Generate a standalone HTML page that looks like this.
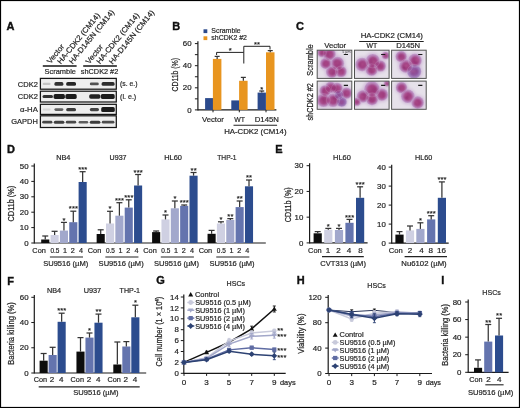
<!DOCTYPE html>
<html><head><meta charset="utf-8"><title>Figure</title>
<style>html,body{margin:0;padding:0;background:#fff;}body{width:520px;height:408px;overflow:hidden;position:relative;font-family:"Liberation Sans",sans-serif;}</style>
</head><body>
<svg width="520" height="408" viewBox="0 0 520 408" style="position:absolute;left:0;top:0;will-change:transform;filter:blur(0.3px)">
<defs><filter id="bl" x="-30%" y="-80%" width="160%" height="260%"><feGaussianBlur stdDeviation="0.65"/></filter><filter id="bl2" x="-50%" y="-50%" width="200%" height="200%"><feGaussianBlur stdDeviation="1.2"/></filter><filter id="bl3" x="-50%" y="-50%" width="200%" height="200%"><feGaussianBlur stdDeviation="0.7"/></filter></defs>
<g font-family='"Liberation Sans", sans-serif' fill="#262626">
<rect x="0" y="0" width="520" height="408" fill="#fff"/>
<text transform="translate(6.40,29.50) scale(1.1,1)" font-size="10.0" font-weight="bold" fill="#111" stroke="#111" stroke-width="0.35" >A</text>
<text transform="translate(50.50,64.30) rotate(-51)" font-size="7.6" stroke="#262626" stroke-width="0.2" textLength="22.50" lengthAdjust="spacingAndGlyphs" >Vector</text>
<text transform="translate(60.80,64.50) rotate(-51)" font-size="7.6" stroke="#262626" stroke-width="0.2" textLength="63.00" lengthAdjust="spacingAndGlyphs" >HA-CDK2 (CM14)</text>
<text transform="translate(72.50,64.40) rotate(-51)" font-size="7.6" stroke="#262626" stroke-width="0.2" textLength="67.00" lengthAdjust="spacingAndGlyphs" >HA-D145N (CM14)</text>
<text transform="translate(89.30,64.50) rotate(-51)" font-size="7.6" stroke="#262626" stroke-width="0.2" textLength="22.50" lengthAdjust="spacingAndGlyphs" >Vector</text>
<text transform="translate(100.00,64.40) rotate(-51)" font-size="7.6" stroke="#262626" stroke-width="0.2" textLength="63.00" lengthAdjust="spacingAndGlyphs" >HA-CDK2 (CM14)</text>
<text transform="translate(112.50,64.70) rotate(-51)" font-size="7.6" stroke="#262626" stroke-width="0.2" textLength="67.00" lengthAdjust="spacingAndGlyphs" >HA-D145N (CM14)</text>
<line x1="42.80" y1="66.00" x2="76.60" y2="66.00" stroke="#151515" stroke-width="1.3" />
<line x1="83.20" y1="66.00" x2="116.90" y2="66.00" stroke="#151515" stroke-width="1.3" />
<text transform="translate(44.55,74.25)" font-size="7.6" stroke="#262626" stroke-width="0.2" textLength="31.40" lengthAdjust="spacingAndGlyphs" >Scramble</text>
<text transform="translate(80.85,74.15)" font-size="7.6" stroke="#262626" stroke-width="0.2" textLength="37.40" lengthAdjust="spacingAndGlyphs" >shCDK2 #2</text>
<rect x="40.40" y="78.40" width="75.90" height="10.80" fill="#eeeeee" stroke="#151515" stroke-width="1.25"/>
<rect x="40.40" y="91.20" width="75.90" height="10.80" fill="#eeeeee" stroke="#151515" stroke-width="1.25"/>
<rect x="40.40" y="104.30" width="75.90" height="10.10" fill="#eeeeee" stroke="#151515" stroke-width="1.25"/>
<rect x="40.40" y="115.80" width="75.90" height="11.70" fill="#eeeeee" stroke="#151515" stroke-width="1.25"/>
<text transform="translate(17.85,86.75)" font-size="7.6" stroke="#262626" stroke-width="0.2" textLength="20.00" lengthAdjust="spacingAndGlyphs" >CDK2</text>
<text transform="translate(17.85,99.05)" font-size="7.6" stroke="#262626" stroke-width="0.2" textLength="20.00" lengthAdjust="spacingAndGlyphs" >CDK2</text>
<text transform="translate(20.05,111.85)" font-size="7.6" stroke="#262626" stroke-width="0.2" textLength="17.80" lengthAdjust="spacingAndGlyphs" >&#945;-HA</text>
<text transform="translate(11.25,123.95)" font-size="7.6" stroke="#262626" stroke-width="0.2" textLength="26.60" lengthAdjust="spacingAndGlyphs" >GAPDH</text>
<text transform="translate(120.05,86.15)" font-size="7.6" stroke="#262626" stroke-width="0.2" textLength="17.50" lengthAdjust="spacingAndGlyphs" >(s. e.)</text>
<text transform="translate(120.05,98.55)" font-size="7.6" stroke="#262626" stroke-width="0.2" textLength="16.20" lengthAdjust="spacingAndGlyphs" >(l. e.)</text>
<g filter="url(#bl)">
<rect x="42.70" y="82.80" width="7.90" height="2.20" rx="1.10" fill="rgb(196,196,196)"/>
<rect x="54.40" y="82.05" width="9.00" height="3.70" rx="1.60" fill="rgb(48,48,48)"/>
<rect x="66.20" y="81.95" width="9.80" height="3.90" rx="1.60" fill="rgb(40,40,40)"/>
<rect x="89.80" y="82.45" width="9.00" height="2.90" rx="1.45" fill="rgb(83,83,83)"/>
<rect x="101.60" y="82.05" width="13.00" height="3.70" rx="1.60" fill="rgb(46,46,46)"/>
<rect x="42.50" y="95.00" width="10.50" height="3.00" rx="1.50" fill="rgb(48,48,48)"/>
<rect x="53.60" y="94.05" width="11.30" height="4.90" rx="1.60" fill="rgb(26,26,26)"/>
<rect x="65.40" y="94.05" width="11.30" height="4.90" rx="1.60" fill="rgb(26,26,26)"/>
<rect x="89.20" y="94.35" width="11.20" height="4.30" rx="1.60" fill="rgb(36,36,36)"/>
<rect x="100.80" y="94.10" width="13.90" height="4.80" rx="1.60" fill="rgb(26,26,26)"/>
<rect x="42.70" y="108.60" width="7.90" height="2.00" rx="1.00" fill="rgb(214,214,214)"/>
<rect x="54.40" y="108.15" width="9.00" height="2.90" rx="1.45" fill="rgb(98,98,98)"/>
<rect x="66.20" y="107.90" width="9.80" height="3.40" rx="1.60" fill="rgb(60,60,60)"/>
<rect x="89.80" y="108.05" width="9.20" height="3.10" rx="1.55" fill="rgb(68,68,68)"/>
<rect x="101.20" y="107.10" width="13.60" height="5.00" rx="1.60" fill="rgb(30,30,30)"/>
<rect x="42.20" y="120.80" width="10.20" height="2.80" rx="1.40" fill="rgb(68,68,68)"/>
<rect x="53.80" y="120.70" width="10.60" height="3.00" rx="1.50" fill="rgb(63,63,63)"/>
<rect x="65.80" y="120.80" width="10.40" height="2.80" rx="1.40" fill="rgb(73,73,73)"/>
<rect x="78.60" y="121.00" width="9.60" height="2.40" rx="1.20" fill="rgb(93,93,93)"/>
<rect x="89.80" y="120.70" width="10.60" height="3.00" rx="1.50" fill="rgb(58,58,58)"/>
<rect x="101.80" y="120.80" width="12.60" height="2.80" rx="1.40" fill="rgb(78,78,78)"/>
</g>
<text transform="translate(172.20,29.50) scale(1.1,1)" font-size="10.0" font-weight="bold" fill="#111" stroke="#111" stroke-width="0.35" >B</text>
<rect x="203.50" y="29.30" width="3.80" height="3.80" fill="#2b4a8c" />
<text transform="translate(211.35,33.05)" font-size="7.4" stroke="#262626" stroke-width="0.2" textLength="29.30" lengthAdjust="spacingAndGlyphs" >Scramble</text>
<rect x="203.50" y="36.30" width="3.80" height="3.80" fill="#e8951f" />
<text transform="translate(211.35,40.15)" font-size="7.4" stroke="#262626" stroke-width="0.2" textLength="35.60" lengthAdjust="spacingAndGlyphs" >shCDK2 #2</text>
<line x1="197.90" y1="41.20" x2="197.90" y2="110.50" stroke="#1a1a1a" stroke-width="1.2" />
<line x1="194.90" y1="109.90" x2="197.90" y2="109.90" stroke="#1a1a1a" stroke-width="1" />
<text transform="translate(191.60,112.53) scale(1.08,1)" font-size="7.3" text-anchor="end" stroke="#262626" stroke-width="0.2" >0</text>
<line x1="194.90" y1="87.80" x2="197.90" y2="87.80" stroke="#1a1a1a" stroke-width="1" />
<text transform="translate(191.60,90.43) scale(1.08,1)" font-size="7.3" text-anchor="end" stroke="#262626" stroke-width="0.2" >20</text>
<line x1="194.90" y1="65.70" x2="197.90" y2="65.70" stroke="#1a1a1a" stroke-width="1" />
<text transform="translate(191.60,68.33) scale(1.08,1)" font-size="7.3" text-anchor="end" stroke="#262626" stroke-width="0.2" >40</text>
<line x1="194.90" y1="43.60" x2="197.90" y2="43.60" stroke="#1a1a1a" stroke-width="1" />
<text transform="translate(191.60,46.23) scale(1.08,1)" font-size="7.3" text-anchor="end" stroke="#262626" stroke-width="0.2" >60</text>
<line x1="194.90" y1="98.85" x2="197.90" y2="98.85" stroke="#1a1a1a" stroke-width="1" />
<line x1="194.90" y1="76.75" x2="197.90" y2="76.75" stroke="#1a1a1a" stroke-width="1" />
<line x1="194.90" y1="54.65" x2="197.90" y2="54.65" stroke="#1a1a1a" stroke-width="1" />
<line x1="197.90" y1="109.90" x2="276.40" y2="109.90" stroke="#1a1a1a" stroke-width="1.2" />
<text transform="translate(177.60,91.55) rotate(-90) scale(1,1.13)" font-size="7.6" stroke="#262626" stroke-width="0.2" textLength="33.60" lengthAdjust="spacingAndGlyphs" >CD11b (%)</text>
<rect x="205.10" y="98.10" width="8.30" height="11.80" fill="#2b4a8c" />
<rect x="212.90" y="58.90" width="8.50" height="51.00" fill="#e8951f" />
<rect x="231.30" y="100.40" width="8.30" height="9.50" fill="#2b4a8c" />
<rect x="239.10" y="80.80" width="8.50" height="29.10" fill="#e8951f" />
<rect x="257.60" y="92.60" width="8.30" height="17.30" fill="#2b4a8c" />
<rect x="266.00" y="52.30" width="8.50" height="57.60" fill="#e8951f" />
<line x1="217.15" y1="56.40" x2="217.15" y2="58.90" stroke="#353535" stroke-width="1.25" />
<line x1="214.65" y1="56.40" x2="219.65" y2="56.40" stroke="#353535" stroke-width="1.25" />
<line x1="243.35" y1="77.40" x2="243.35" y2="80.80" stroke="#353535" stroke-width="1.25" />
<line x1="240.85" y1="77.40" x2="245.85" y2="77.40" stroke="#353535" stroke-width="1.25" />
<line x1="261.75" y1="91.00" x2="261.75" y2="92.60" stroke="#353535" stroke-width="1.25" />
<line x1="259.25" y1="91.00" x2="264.25" y2="91.00" stroke="#353535" stroke-width="1.25" />
<line x1="270.25" y1="50.60" x2="270.25" y2="52.30" stroke="#353535" stroke-width="1.25" />
<line x1="267.75" y1="50.60" x2="272.75" y2="50.60" stroke="#353535" stroke-width="1.25" />
<line x1="213.00" y1="109.90" x2="213.00" y2="112.30" stroke="#1a1a1a" stroke-width="1" />
<line x1="239.30" y1="109.90" x2="239.30" y2="112.30" stroke="#1a1a1a" stroke-width="1" />
<line x1="266.00" y1="109.90" x2="266.00" y2="112.30" stroke="#1a1a1a" stroke-width="1" />
<line x1="216.60" y1="52.40" x2="243.80" y2="52.40" stroke="#222" stroke-width="1" />
<line x1="216.60" y1="52.40" x2="216.60" y2="55.00" stroke="#222" stroke-width="1" />
<line x1="243.80" y1="52.40" x2="243.80" y2="63.50" stroke="#222" stroke-width="1" />
<line x1="243.80" y1="46.30" x2="270.00" y2="46.30" stroke="#222" stroke-width="1" />
<line x1="243.80" y1="46.30" x2="243.80" y2="52.40" stroke="#222" stroke-width="1" />
<line x1="270.00" y1="46.30" x2="270.00" y2="49.50" stroke="#222" stroke-width="1" />
<text transform="translate(230.30,53.19)" font-size="7.6" text-anchor="middle" fill="#1a1a1a" stroke="#1a1a1a" stroke-width="0.15" letter-spacing="0.1">*</text>
<text transform="translate(257.10,47.09)" font-size="7.6" text-anchor="middle" fill="#1a1a1a" stroke="#1a1a1a" stroke-width="0.15" letter-spacing="0.1">**</text>
<text transform="translate(261.90,92.29)" font-size="7.6" text-anchor="middle" fill="#1a1a1a" stroke="#1a1a1a" stroke-width="0.15" letter-spacing="0.1">*</text>
<text transform="translate(201.95,122.35)" font-size="7.6" stroke="#262626" stroke-width="0.2" textLength="21.90" lengthAdjust="spacingAndGlyphs" >Vector</text>
<text transform="translate(234.35,122.35)" font-size="7.6" stroke="#262626" stroke-width="0.2" textLength="10.70" lengthAdjust="spacingAndGlyphs" >WT</text>
<text transform="translate(254.75,122.35)" font-size="7.6" stroke="#262626" stroke-width="0.2" textLength="24.10" lengthAdjust="spacingAndGlyphs" >D145N</text>
<line x1="233.50" y1="125.20" x2="277.10" y2="125.20" stroke="#222" stroke-width="1.1" />
<text transform="translate(224.15,133.65)" font-size="7.6" stroke="#262626" stroke-width="0.2" textLength="62.40" lengthAdjust="spacingAndGlyphs" >HA-CDK2 (CM14)</text>
<text transform="translate(296.00,29.80) scale(1.1,1)" font-size="10.0" font-weight="bold" fill="#111" stroke="#111" stroke-width="0.35" >C</text>
<text transform="translate(360.65,38.15)" font-size="7.6" stroke="#262626" stroke-width="0.2" textLength="62.30" lengthAdjust="spacingAndGlyphs" >HA-CDK2 (CM14)</text>
<line x1="359.20" y1="41.50" x2="423.70" y2="41.50" stroke="#222" stroke-width="1.1" />
<text transform="translate(324.25,47.75)" font-size="7.6" stroke="#262626" stroke-width="0.2" textLength="21.90" lengthAdjust="spacingAndGlyphs" >Vector</text>
<text transform="translate(366.55,47.75)" font-size="7.6" stroke="#262626" stroke-width="0.2" textLength="10.70" lengthAdjust="spacingAndGlyphs" >WT</text>
<text transform="translate(396.15,47.75)" font-size="7.6" stroke="#262626" stroke-width="0.2" textLength="24.00" lengthAdjust="spacingAndGlyphs" >D145N</text>
<text transform="translate(312.80,75.65) rotate(-90) scale(1,1.13)" font-size="7.6" stroke="#262626" stroke-width="0.2" textLength="31.40" lengthAdjust="spacingAndGlyphs" >Scramble</text>
<text transform="translate(313.00,120.55) rotate(-90) scale(1,1.13)" font-size="7.6" stroke="#262626" stroke-width="0.2" textLength="37.50" lengthAdjust="spacingAndGlyphs" >shCDK2 #2</text>
<filter id="bl4" x="-50%" y="-50%" width="200%" height="200%"><feGaussianBlur stdDeviation="1.6"/></filter>
<filter id="bl5" x="-50%" y="-50%" width="200%" height="200%"><feGaussianBlur stdDeviation="0.5"/></filter>
<filter id="bl6" x="-50%" y="-50%" width="200%" height="200%"><feGaussianBlur stdDeviation="1.0"/></filter>
<clipPath id="clip00"><rect x="317.20" y="50.20" width="34.6" height="28.2"/></clipPath>
<g clip-path="url(#clip00)">
<rect x="317.20" y="50.20" width="34.60" height="28.20" fill="#e6e1ea" />
<g filter="url(#bl4)">
<circle cx="329.30" cy="54.20" r="7.56" fill="#cdb3d6" opacity="0.8"/>
<circle cx="325.90" cy="63.40" r="6.75" fill="#cdb3d6" opacity="0.8"/>
<circle cx="337.30" cy="63.40" r="8.10" fill="#cdb3d6" opacity="0.8"/>
<circle cx="332.00" cy="71.80" r="7.29" fill="#cdb3d6" opacity="0.8"/>
<circle cx="341.00" cy="71.50" r="6.75" fill="#cdb3d6" opacity="0.8"/>
<circle cx="322.00" cy="52.50" r="5.40" fill="#cdb3d6" opacity="0.8"/>
</g>
<g filter="url(#bl3)">
<circle cx="329.30" cy="54.20" r="6.27" fill="#bd94c6"/>
<circle cx="325.90" cy="63.40" r="5.60" fill="#bd94c6"/>
<circle cx="337.30" cy="63.40" r="6.72" fill="#bd94c6"/>
<circle cx="332.00" cy="71.80" r="6.05" fill="#bd94c6"/>
<circle cx="341.00" cy="71.50" r="5.60" fill="#bd94c6"/>
<circle cx="322.00" cy="52.50" r="4.48" fill="#bd94c6"/>
</g>
<g filter="url(#bl6)">
<circle cx="329.50" cy="54.40" r="4.37" fill="#a0377c" opacity="0.92"/>
<circle cx="326.10" cy="63.60" r="3.90" fill="#a0377c" opacity="0.92"/>
<circle cx="337.50" cy="63.60" r="4.68" fill="#a0377c" opacity="0.92"/>
<circle cx="332.20" cy="72.00" r="4.21" fill="#a0377c" opacity="0.92"/>
<circle cx="341.20" cy="71.70" r="3.90" fill="#a0377c" opacity="0.92"/>
<circle cx="322.20" cy="52.70" r="3.12" fill="#a0377c" opacity="0.92"/>
</g>
<g filter="url(#bl5)">
<circle cx="329.30" cy="54.20" r="6.16" fill="none" stroke="#d6c0de" stroke-width="0.6" opacity="0.35"/>
<circle cx="325.90" cy="63.40" r="5.50" fill="none" stroke="#d6c0de" stroke-width="0.6" opacity="0.35"/>
<circle cx="337.30" cy="63.40" r="6.60" fill="none" stroke="#d6c0de" stroke-width="0.6" opacity="0.35"/>
<circle cx="332.00" cy="71.80" r="5.94" fill="none" stroke="#d6c0de" stroke-width="0.6" opacity="0.35"/>
<circle cx="341.00" cy="71.50" r="5.50" fill="none" stroke="#d6c0de" stroke-width="0.6" opacity="0.35"/>
<circle cx="322.00" cy="52.50" r="4.40" fill="none" stroke="#d6c0de" stroke-width="0.6" opacity="0.35"/>
</g>
<g filter="url(#bl6)">
<circle cx="329.11" cy="54.58" r="1.23" fill="#7c2060" opacity="0.4"/>
<circle cx="329.18" cy="54.04" r="1.23" fill="#c66aa0" opacity="0.4"/>
<circle cx="328.30" cy="53.97" r="1.23" fill="#7c2060" opacity="0.4"/>
<circle cx="330.63" cy="54.71" r="1.23" fill="#c66aa0" opacity="0.4"/>
<circle cx="326.95" cy="63.65" r="1.10" fill="#7c2060" opacity="0.4"/>
<circle cx="326.11" cy="63.50" r="1.10" fill="#c66aa0" opacity="0.4"/>
<circle cx="324.06" cy="64.34" r="1.10" fill="#7c2060" opacity="0.4"/>
<circle cx="326.30" cy="63.79" r="1.10" fill="#c66aa0" opacity="0.4"/>
<circle cx="335.32" cy="61.36" r="1.32" fill="#7c2060" opacity="0.4"/>
<circle cx="336.25" cy="62.85" r="1.32" fill="#c66aa0" opacity="0.4"/>
<circle cx="337.44" cy="63.38" r="1.32" fill="#7c2060" opacity="0.4"/>
<circle cx="337.85" cy="62.73" r="1.32" fill="#c66aa0" opacity="0.4"/>
<circle cx="332.20" cy="72.05" r="1.19" fill="#7c2060" opacity="0.4"/>
<circle cx="331.21" cy="73.86" r="1.19" fill="#c66aa0" opacity="0.4"/>
<circle cx="332.66" cy="73.22" r="1.19" fill="#7c2060" opacity="0.4"/>
<circle cx="331.35" cy="71.03" r="1.19" fill="#c66aa0" opacity="0.4"/>
<circle cx="340.85" cy="71.45" r="1.10" fill="#7c2060" opacity="0.4"/>
<circle cx="341.48" cy="71.69" r="1.10" fill="#c66aa0" opacity="0.4"/>
<circle cx="340.55" cy="70.53" r="1.10" fill="#7c2060" opacity="0.4"/>
<circle cx="340.43" cy="72.85" r="1.10" fill="#c66aa0" opacity="0.4"/>
<circle cx="321.43" cy="52.67" r="0.88" fill="#7c2060" opacity="0.4"/>
<circle cx="322.38" cy="51.16" r="0.88" fill="#c66aa0" opacity="0.4"/>
<circle cx="322.04" cy="53.65" r="0.88" fill="#7c2060" opacity="0.4"/>
<circle cx="320.27" cy="52.22" r="0.88" fill="#c66aa0" opacity="0.4"/>
</g>
<line x1="343.80" y1="54.50" x2="348.00" y2="54.50" stroke="#1a1a1a" stroke-width="1.1" />
</g>
<rect x="317.20" y="50.20" width="34.60" height="28.20" fill="none" stroke="#505050" stroke-width="1"/>
<clipPath id="clip01"><rect x="317.20" y="81.10" width="34.6" height="28.2"/></clipPath>
<g clip-path="url(#clip01)">
<rect x="317.20" y="81.10" width="34.60" height="28.20" fill="#e6e1ea" />
<g filter="url(#bl4)">
<circle cx="325.20" cy="90.80" r="6.75" fill="#cdb3d6" opacity="0.8"/>
<circle cx="330.70" cy="87.40" r="6.75" fill="#cdb3d6" opacity="0.8"/>
<circle cx="337.00" cy="88.40" r="6.75" fill="#cdb3d6" opacity="0.8"/>
<circle cx="346.40" cy="93.10" r="6.75" fill="#cdb3d6" opacity="0.8"/>
<circle cx="323.60" cy="100.20" r="8.10" fill="#cdb3d6" opacity="0.8"/>
<circle cx="333.00" cy="100.20" r="8.10" fill="#cdb3d6" opacity="0.8"/>
<circle cx="341.70" cy="101.70" r="6.08" fill="#cdb3d6" opacity="0.8"/>
<circle cx="339.00" cy="95.00" r="5.40" fill="#cdb3d6" opacity="0.8"/>
</g>
<g filter="url(#bl3)">
<circle cx="325.20" cy="90.80" r="5.60" fill="#bd94c6"/>
<circle cx="330.70" cy="87.40" r="5.60" fill="#bd94c6"/>
<circle cx="337.00" cy="88.40" r="5.60" fill="#bd94c6"/>
<circle cx="346.40" cy="93.10" r="5.60" fill="#bd94c6"/>
<circle cx="323.60" cy="100.20" r="6.72" fill="#bd94c6"/>
<circle cx="333.00" cy="100.20" r="6.72" fill="#bd94c6"/>
<circle cx="341.70" cy="101.70" r="5.04" fill="#a98cc4"/>
<circle cx="339.00" cy="95.00" r="4.48" fill="#a98cc4"/>
</g>
<g filter="url(#bl6)">
<circle cx="325.40" cy="91.00" r="3.90" fill="#a0377c" opacity="0.92"/>
<circle cx="330.90" cy="87.60" r="3.90" fill="#a0377c" opacity="0.92"/>
<circle cx="337.20" cy="88.60" r="3.90" fill="#a0377c" opacity="0.92"/>
<circle cx="346.60" cy="93.30" r="3.90" fill="#a0377c" opacity="0.92"/>
<circle cx="323.80" cy="100.40" r="4.68" fill="#a0377c" opacity="0.92"/>
<circle cx="333.20" cy="100.40" r="4.68" fill="#a0377c" opacity="0.92"/>
<circle cx="341.90" cy="101.90" r="3.51" fill="#8c4f9c" opacity="0.92"/>
<circle cx="339.20" cy="95.20" r="3.12" fill="#8c4f9c" opacity="0.92"/>
</g>
<g filter="url(#bl5)">
<circle cx="325.20" cy="90.80" r="5.50" fill="none" stroke="#d6c0de" stroke-width="0.6" opacity="0.35"/>
<circle cx="330.70" cy="87.40" r="5.50" fill="none" stroke="#d6c0de" stroke-width="0.6" opacity="0.35"/>
<circle cx="337.00" cy="88.40" r="5.50" fill="none" stroke="#d6c0de" stroke-width="0.6" opacity="0.35"/>
<circle cx="346.40" cy="93.10" r="5.50" fill="none" stroke="#d6c0de" stroke-width="0.6" opacity="0.35"/>
<circle cx="323.60" cy="100.20" r="6.60" fill="none" stroke="#d6c0de" stroke-width="0.6" opacity="0.35"/>
<circle cx="333.00" cy="100.20" r="6.60" fill="none" stroke="#d6c0de" stroke-width="0.6" opacity="0.35"/>
<circle cx="341.70" cy="101.70" r="4.95" fill="none" stroke="#d6c0de" stroke-width="0.6" opacity="0.35"/>
<circle cx="339.00" cy="95.00" r="4.40" fill="none" stroke="#d6c0de" stroke-width="0.6" opacity="0.35"/>
</g>
<g filter="url(#bl6)">
<circle cx="325.11" cy="90.09" r="1.10" fill="#7c2060" opacity="0.4"/>
<circle cx="325.49" cy="90.76" r="1.10" fill="#c66aa0" opacity="0.4"/>
<circle cx="323.55" cy="91.73" r="1.10" fill="#7c2060" opacity="0.4"/>
<circle cx="325.91" cy="91.80" r="1.10" fill="#c66aa0" opacity="0.4"/>
<circle cx="332.32" cy="87.81" r="1.10" fill="#7c2060" opacity="0.4"/>
<circle cx="330.83" cy="85.97" r="1.10" fill="#c66aa0" opacity="0.4"/>
<circle cx="331.26" cy="86.85" r="1.10" fill="#7c2060" opacity="0.4"/>
<circle cx="330.20" cy="86.00" r="1.10" fill="#c66aa0" opacity="0.4"/>
<circle cx="336.00" cy="87.85" r="1.10" fill="#7c2060" opacity="0.4"/>
<circle cx="338.26" cy="86.41" r="1.10" fill="#c66aa0" opacity="0.4"/>
<circle cx="335.36" cy="88.67" r="1.10" fill="#7c2060" opacity="0.4"/>
<circle cx="338.63" cy="89.05" r="1.10" fill="#c66aa0" opacity="0.4"/>
<circle cx="344.90" cy="91.12" r="1.10" fill="#7c2060" opacity="0.4"/>
<circle cx="346.71" cy="92.46" r="1.10" fill="#c66aa0" opacity="0.4"/>
<circle cx="345.14" cy="94.20" r="1.10" fill="#7c2060" opacity="0.4"/>
<circle cx="347.54" cy="93.26" r="1.10" fill="#c66aa0" opacity="0.4"/>
<circle cx="323.77" cy="100.51" r="1.32" fill="#7c2060" opacity="0.4"/>
<circle cx="325.75" cy="101.03" r="1.32" fill="#c66aa0" opacity="0.4"/>
<circle cx="324.11" cy="100.74" r="1.32" fill="#7c2060" opacity="0.4"/>
<circle cx="321.58" cy="101.85" r="1.32" fill="#c66aa0" opacity="0.4"/>
<circle cx="334.18" cy="100.85" r="1.32" fill="#7c2060" opacity="0.4"/>
<circle cx="330.48" cy="99.39" r="1.32" fill="#c66aa0" opacity="0.4"/>
<circle cx="334.09" cy="97.85" r="1.32" fill="#7c2060" opacity="0.4"/>
<circle cx="332.78" cy="101.43" r="1.32" fill="#c66aa0" opacity="0.4"/>
<circle cx="340.44" cy="103.24" r="0.99" fill="#7c2060" opacity="0.4"/>
<circle cx="342.03" cy="101.61" r="0.99" fill="#c66aa0" opacity="0.4"/>
<circle cx="341.93" cy="102.17" r="0.99" fill="#7c2060" opacity="0.4"/>
<circle cx="341.81" cy="102.79" r="0.99" fill="#c66aa0" opacity="0.4"/>
<circle cx="338.55" cy="94.72" r="0.88" fill="#7c2060" opacity="0.4"/>
<circle cx="339.84" cy="95.02" r="0.88" fill="#c66aa0" opacity="0.4"/>
<circle cx="338.23" cy="95.83" r="0.88" fill="#7c2060" opacity="0.4"/>
<circle cx="340.32" cy="94.60" r="0.88" fill="#c66aa0" opacity="0.4"/>
</g>
<line x1="343.80" y1="85.40" x2="348.00" y2="85.40" stroke="#1a1a1a" stroke-width="1.1" />
</g>
<rect x="317.20" y="81.10" width="34.60" height="28.20" fill="none" stroke="#505050" stroke-width="1"/>
<clipPath id="clip10"><rect x="354.50" y="50.20" width="34.6" height="28.2"/></clipPath>
<g clip-path="url(#clip10)">
<rect x="354.50" y="50.20" width="34.60" height="28.20" fill="#e6e1ea" />
<g filter="url(#bl4)">
<circle cx="362.20" cy="64.50" r="8.10" fill="#cdb3d6" opacity="0.8"/>
<circle cx="372.80" cy="61.00" r="8.51" fill="#cdb3d6" opacity="0.8"/>
<circle cx="371.60" cy="69.80" r="7.29" fill="#cdb3d6" opacity="0.8"/>
<circle cx="380.20" cy="66.00" r="6.75" fill="#cdb3d6" opacity="0.8"/>
<circle cx="385.50" cy="55.50" r="4.32" fill="#cdb3d6" opacity="0.8"/>
</g>
<g filter="url(#bl3)">
<circle cx="362.20" cy="64.50" r="6.72" fill="#bd94c6"/>
<circle cx="372.80" cy="61.00" r="7.06" fill="#bd94c6"/>
<circle cx="371.60" cy="69.80" r="6.05" fill="#bd94c6"/>
<circle cx="380.20" cy="66.00" r="5.60" fill="#bd94c6"/>
<circle cx="385.50" cy="55.50" r="3.58" fill="#bd94c6"/>
</g>
<g filter="url(#bl6)">
<circle cx="362.40" cy="64.70" r="4.68" fill="#a0377c" opacity="0.92"/>
<circle cx="373.00" cy="61.20" r="4.91" fill="#a0377c" opacity="0.92"/>
<circle cx="371.80" cy="70.00" r="4.21" fill="#a0377c" opacity="0.92"/>
<circle cx="380.40" cy="66.20" r="3.90" fill="#a0377c" opacity="0.92"/>
<circle cx="385.70" cy="55.70" r="2.50" fill="#a0377c" opacity="0.92"/>
</g>
<g filter="url(#bl5)">
<circle cx="362.20" cy="64.50" r="6.60" fill="none" stroke="#d6c0de" stroke-width="0.6" opacity="0.35"/>
<circle cx="372.80" cy="61.00" r="6.93" fill="none" stroke="#d6c0de" stroke-width="0.6" opacity="0.35"/>
<circle cx="371.60" cy="69.80" r="5.94" fill="none" stroke="#d6c0de" stroke-width="0.6" opacity="0.35"/>
<circle cx="380.20" cy="66.00" r="5.50" fill="none" stroke="#d6c0de" stroke-width="0.6" opacity="0.35"/>
<circle cx="385.50" cy="55.50" r="3.52" fill="none" stroke="#d6c0de" stroke-width="0.6" opacity="0.35"/>
</g>
<g filter="url(#bl6)">
<circle cx="360.36" cy="64.32" r="1.32" fill="#7c2060" opacity="0.4"/>
<circle cx="362.13" cy="64.36" r="1.32" fill="#c66aa0" opacity="0.4"/>
<circle cx="364.09" cy="63.12" r="1.32" fill="#7c2060" opacity="0.4"/>
<circle cx="363.89" cy="62.80" r="1.32" fill="#c66aa0" opacity="0.4"/>
<circle cx="371.82" cy="61.79" r="1.39" fill="#7c2060" opacity="0.4"/>
<circle cx="374.39" cy="62.21" r="1.39" fill="#c66aa0" opacity="0.4"/>
<circle cx="373.00" cy="61.08" r="1.39" fill="#7c2060" opacity="0.4"/>
<circle cx="372.93" cy="61.49" r="1.39" fill="#c66aa0" opacity="0.4"/>
<circle cx="371.52" cy="69.92" r="1.19" fill="#7c2060" opacity="0.4"/>
<circle cx="372.01" cy="69.80" r="1.19" fill="#c66aa0" opacity="0.4"/>
<circle cx="372.39" cy="70.38" r="1.19" fill="#7c2060" opacity="0.4"/>
<circle cx="373.93" cy="70.18" r="1.19" fill="#c66aa0" opacity="0.4"/>
<circle cx="379.92" cy="65.76" r="1.10" fill="#7c2060" opacity="0.4"/>
<circle cx="380.19" cy="66.87" r="1.10" fill="#c66aa0" opacity="0.4"/>
<circle cx="380.00" cy="66.23" r="1.10" fill="#7c2060" opacity="0.4"/>
<circle cx="381.65" cy="63.98" r="1.10" fill="#c66aa0" opacity="0.4"/>
<circle cx="384.74" cy="55.66" r="0.70" fill="#7c2060" opacity="0.4"/>
<circle cx="385.64" cy="55.58" r="0.70" fill="#c66aa0" opacity="0.4"/>
<circle cx="385.27" cy="55.85" r="0.70" fill="#7c2060" opacity="0.4"/>
<circle cx="385.62" cy="55.27" r="0.70" fill="#c66aa0" opacity="0.4"/>
</g>
<line x1="381.10" y1="54.50" x2="385.30" y2="54.50" stroke="#1a1a1a" stroke-width="1.1" />
</g>
<rect x="354.50" y="50.20" width="34.60" height="28.20" fill="none" stroke="#505050" stroke-width="1"/>
<clipPath id="clip11"><rect x="354.50" y="81.10" width="34.6" height="28.2"/></clipPath>
<g clip-path="url(#clip11)">
<rect x="354.50" y="81.10" width="34.60" height="28.20" fill="#e6e1ea" />
<g filter="url(#bl4)">
<circle cx="372.00" cy="89.20" r="9.45" fill="#cdb3d6" opacity="0.8"/>
<circle cx="363.00" cy="96.30" r="7.43" fill="#cdb3d6" opacity="0.8"/>
<circle cx="372.00" cy="99.00" r="7.43" fill="#cdb3d6" opacity="0.8"/>
<circle cx="381.80" cy="94.70" r="7.43" fill="#cdb3d6" opacity="0.8"/>
<circle cx="356.70" cy="101.70" r="4.73" fill="#cdb3d6" opacity="0.8"/>
<circle cx="387.00" cy="83.50" r="3.38" fill="#cdb3d6" opacity="0.8"/>
</g>
<g filter="url(#bl3)">
<circle cx="372.00" cy="89.20" r="7.84" fill="#bd94c6"/>
<circle cx="363.00" cy="96.30" r="6.16" fill="#bd94c6"/>
<circle cx="372.00" cy="99.00" r="6.16" fill="#bd94c6"/>
<circle cx="381.80" cy="94.70" r="6.16" fill="#bd94c6"/>
<circle cx="356.70" cy="101.70" r="3.92" fill="#bd94c6"/>
<circle cx="387.00" cy="83.50" r="2.80" fill="#bd94c6"/>
</g>
<g filter="url(#bl6)">
<circle cx="372.20" cy="89.40" r="5.46" fill="#a0377c" opacity="0.92"/>
<circle cx="363.20" cy="96.50" r="4.29" fill="#a0377c" opacity="0.92"/>
<circle cx="372.20" cy="99.20" r="4.29" fill="#a0377c" opacity="0.92"/>
<circle cx="382.00" cy="94.90" r="4.29" fill="#a0377c" opacity="0.92"/>
<circle cx="356.90" cy="101.90" r="2.73" fill="#a0377c" opacity="0.92"/>
<circle cx="387.20" cy="83.70" r="1.95" fill="#a0377c" opacity="0.92"/>
</g>
<g filter="url(#bl5)">
<circle cx="372.00" cy="89.20" r="7.70" fill="none" stroke="#d6c0de" stroke-width="0.6" opacity="0.35"/>
<circle cx="363.00" cy="96.30" r="6.05" fill="none" stroke="#d6c0de" stroke-width="0.6" opacity="0.35"/>
<circle cx="372.00" cy="99.00" r="6.05" fill="none" stroke="#d6c0de" stroke-width="0.6" opacity="0.35"/>
<circle cx="381.80" cy="94.70" r="6.05" fill="none" stroke="#d6c0de" stroke-width="0.6" opacity="0.35"/>
<circle cx="356.70" cy="101.70" r="3.85" fill="none" stroke="#d6c0de" stroke-width="0.6" opacity="0.35"/>
<circle cx="387.00" cy="83.50" r="2.75" fill="none" stroke="#d6c0de" stroke-width="0.6" opacity="0.35"/>
</g>
<g filter="url(#bl6)">
<circle cx="375.29" cy="89.68" r="1.54" fill="#7c2060" opacity="0.4"/>
<circle cx="371.49" cy="89.11" r="1.54" fill="#c66aa0" opacity="0.4"/>
<circle cx="371.91" cy="89.17" r="1.54" fill="#7c2060" opacity="0.4"/>
<circle cx="368.63" cy="88.60" r="1.54" fill="#c66aa0" opacity="0.4"/>
<circle cx="364.25" cy="94.85" r="1.21" fill="#7c2060" opacity="0.4"/>
<circle cx="362.93" cy="97.31" r="1.21" fill="#c66aa0" opacity="0.4"/>
<circle cx="364.06" cy="98.14" r="1.21" fill="#7c2060" opacity="0.4"/>
<circle cx="360.90" cy="95.86" r="1.21" fill="#c66aa0" opacity="0.4"/>
<circle cx="371.71" cy="99.54" r="1.21" fill="#7c2060" opacity="0.4"/>
<circle cx="373.02" cy="96.49" r="1.21" fill="#c66aa0" opacity="0.4"/>
<circle cx="373.33" cy="97.23" r="1.21" fill="#7c2060" opacity="0.4"/>
<circle cx="372.85" cy="97.15" r="1.21" fill="#c66aa0" opacity="0.4"/>
<circle cx="382.01" cy="96.11" r="1.21" fill="#7c2060" opacity="0.4"/>
<circle cx="381.75" cy="94.76" r="1.21" fill="#c66aa0" opacity="0.4"/>
<circle cx="382.56" cy="94.83" r="1.21" fill="#7c2060" opacity="0.4"/>
<circle cx="381.69" cy="96.60" r="1.21" fill="#c66aa0" opacity="0.4"/>
<circle cx="357.45" cy="101.49" r="0.77" fill="#7c2060" opacity="0.4"/>
<circle cx="358.30" cy="101.03" r="0.77" fill="#c66aa0" opacity="0.4"/>
<circle cx="357.31" cy="101.52" r="0.77" fill="#7c2060" opacity="0.4"/>
<circle cx="356.77" cy="102.09" r="0.77" fill="#c66aa0" opacity="0.4"/>
<circle cx="387.08" cy="83.74" r="0.55" fill="#7c2060" opacity="0.4"/>
<circle cx="386.20" cy="82.71" r="0.55" fill="#c66aa0" opacity="0.4"/>
<circle cx="387.32" cy="82.99" r="0.55" fill="#7c2060" opacity="0.4"/>
<circle cx="386.43" cy="82.68" r="0.55" fill="#c66aa0" opacity="0.4"/>
</g>
<line x1="381.10" y1="85.40" x2="385.30" y2="85.40" stroke="#1a1a1a" stroke-width="1.1" />
</g>
<rect x="354.50" y="81.10" width="34.60" height="28.20" fill="none" stroke="#505050" stroke-width="1"/>
<clipPath id="clip20"><rect x="391.60" y="50.20" width="34.6" height="28.2"/></clipPath>
<g clip-path="url(#clip20)">
<rect x="391.60" y="50.20" width="34.60" height="28.20" fill="#e6e1ea" />
<g filter="url(#bl4)">
<circle cx="401.20" cy="56.60" r="6.75" fill="#cdb3d6" opacity="0.8"/>
<circle cx="405.90" cy="66.00" r="8.10" fill="#cdb3d6" opacity="0.8"/>
<circle cx="414.90" cy="60.50" r="8.10" fill="#cdb3d6" opacity="0.8"/>
<circle cx="414.10" cy="71.50" r="8.51" fill="#cdb3d6" opacity="0.8"/>
</g>
<g filter="url(#bl3)">
<circle cx="401.20" cy="56.60" r="5.60" fill="#bd94c6"/>
<circle cx="405.90" cy="66.00" r="6.72" fill="#bd94c6"/>
<circle cx="414.90" cy="60.50" r="6.72" fill="#bd94c6"/>
<circle cx="414.10" cy="71.50" r="7.06" fill="#a98cc4"/>
</g>
<g filter="url(#bl6)">
<circle cx="401.40" cy="56.80" r="3.90" fill="#a0377c" opacity="0.92"/>
<circle cx="406.10" cy="66.20" r="4.68" fill="#a0377c" opacity="0.92"/>
<circle cx="415.10" cy="60.70" r="4.68" fill="#a0377c" opacity="0.92"/>
<circle cx="414.30" cy="71.70" r="4.91" fill="#8c4f9c" opacity="0.92"/>
</g>
<g filter="url(#bl5)">
<circle cx="401.20" cy="56.60" r="5.50" fill="none" stroke="#d6c0de" stroke-width="0.6" opacity="0.35"/>
<circle cx="405.90" cy="66.00" r="6.60" fill="none" stroke="#d6c0de" stroke-width="0.6" opacity="0.35"/>
<circle cx="414.90" cy="60.50" r="6.60" fill="none" stroke="#d6c0de" stroke-width="0.6" opacity="0.35"/>
<circle cx="414.10" cy="71.50" r="6.93" fill="none" stroke="#d6c0de" stroke-width="0.6" opacity="0.35"/>
</g>
<g filter="url(#bl6)">
<circle cx="402.62" cy="57.44" r="1.10" fill="#7c2060" opacity="0.4"/>
<circle cx="402.85" cy="55.55" r="1.10" fill="#c66aa0" opacity="0.4"/>
<circle cx="401.20" cy="55.40" r="1.10" fill="#7c2060" opacity="0.4"/>
<circle cx="402.06" cy="58.38" r="1.10" fill="#c66aa0" opacity="0.4"/>
<circle cx="404.71" cy="68.09" r="1.32" fill="#7c2060" opacity="0.4"/>
<circle cx="407.07" cy="65.79" r="1.32" fill="#c66aa0" opacity="0.4"/>
<circle cx="403.59" cy="67.65" r="1.32" fill="#7c2060" opacity="0.4"/>
<circle cx="405.82" cy="65.50" r="1.32" fill="#c66aa0" opacity="0.4"/>
<circle cx="415.22" cy="60.82" r="1.32" fill="#7c2060" opacity="0.4"/>
<circle cx="416.90" cy="59.14" r="1.32" fill="#c66aa0" opacity="0.4"/>
<circle cx="416.41" cy="62.47" r="1.32" fill="#7c2060" opacity="0.4"/>
<circle cx="416.86" cy="60.26" r="1.32" fill="#c66aa0" opacity="0.4"/>
<circle cx="413.08" cy="72.90" r="1.39" fill="#7c2060" opacity="0.4"/>
<circle cx="414.13" cy="71.53" r="1.39" fill="#c66aa0" opacity="0.4"/>
<circle cx="416.11" cy="71.13" r="1.39" fill="#7c2060" opacity="0.4"/>
<circle cx="411.20" cy="71.01" r="1.39" fill="#c66aa0" opacity="0.4"/>
</g>
<line x1="418.20" y1="54.50" x2="422.40" y2="54.50" stroke="#1a1a1a" stroke-width="1.1" />
</g>
<rect x="391.60" y="50.20" width="34.60" height="28.20" fill="none" stroke="#505050" stroke-width="1"/>
<clipPath id="clip21"><rect x="391.60" y="81.10" width="34.6" height="28.2"/></clipPath>
<g clip-path="url(#clip21)">
<rect x="391.60" y="81.10" width="34.60" height="28.20" fill="#e6e1ea" />
<g filter="url(#bl4)">
<circle cx="401.50" cy="87.60" r="6.75" fill="#cdb3d6" opacity="0.8"/>
<circle cx="407.80" cy="96.30" r="8.10" fill="#cdb3d6" opacity="0.8"/>
<circle cx="417.60" cy="102.50" r="7.43" fill="#cdb3d6" opacity="0.8"/>
</g>
<g filter="url(#bl3)">
<circle cx="401.50" cy="87.60" r="5.60" fill="#bd94c6"/>
<circle cx="407.80" cy="96.30" r="6.72" fill="#bd94c6"/>
<circle cx="417.60" cy="102.50" r="6.16" fill="#bd94c6"/>
</g>
<g filter="url(#bl6)">
<circle cx="401.70" cy="87.80" r="3.90" fill="#a0377c" opacity="0.92"/>
<circle cx="408.00" cy="96.50" r="4.68" fill="#a0377c" opacity="0.92"/>
<circle cx="417.80" cy="102.70" r="4.29" fill="#a0377c" opacity="0.92"/>
</g>
<g filter="url(#bl5)">
<circle cx="401.50" cy="87.60" r="5.50" fill="none" stroke="#d6c0de" stroke-width="0.6" opacity="0.35"/>
<circle cx="407.80" cy="96.30" r="6.60" fill="none" stroke="#d6c0de" stroke-width="0.6" opacity="0.35"/>
<circle cx="417.60" cy="102.50" r="6.05" fill="none" stroke="#d6c0de" stroke-width="0.6" opacity="0.35"/>
</g>
<g filter="url(#bl6)">
<circle cx="399.51" cy="88.48" r="1.10" fill="#7c2060" opacity="0.4"/>
<circle cx="401.74" cy="87.13" r="1.10" fill="#c66aa0" opacity="0.4"/>
<circle cx="401.49" cy="88.33" r="1.10" fill="#7c2060" opacity="0.4"/>
<circle cx="401.59" cy="89.06" r="1.10" fill="#c66aa0" opacity="0.4"/>
<circle cx="407.73" cy="97.55" r="1.32" fill="#7c2060" opacity="0.4"/>
<circle cx="409.66" cy="98.30" r="1.32" fill="#c66aa0" opacity="0.4"/>
<circle cx="406.97" cy="97.39" r="1.32" fill="#7c2060" opacity="0.4"/>
<circle cx="405.45" cy="94.94" r="1.32" fill="#c66aa0" opacity="0.4"/>
<circle cx="415.38" cy="103.71" r="1.21" fill="#7c2060" opacity="0.4"/>
<circle cx="416.14" cy="102.48" r="1.21" fill="#c66aa0" opacity="0.4"/>
<circle cx="417.55" cy="102.49" r="1.21" fill="#7c2060" opacity="0.4"/>
<circle cx="417.13" cy="102.69" r="1.21" fill="#c66aa0" opacity="0.4"/>
</g>
<line x1="418.20" y1="85.40" x2="422.40" y2="85.40" stroke="#1a1a1a" stroke-width="1.1" />
</g>
<rect x="391.60" y="81.10" width="34.60" height="28.20" fill="none" stroke="#505050" stroke-width="1"/>
<text transform="translate(342.30,53.40) scale(1.08,1)" font-size="3.4" fill="#333" >5 &#181;m</text>
<text transform="translate(7.00,153.40) scale(1.1,1)" font-size="10.0" font-weight="bold" fill="#111" stroke="#111" stroke-width="0.35" >D</text>
<line x1="34.30" y1="163.60" x2="34.30" y2="243.60" stroke="#1a1a1a" stroke-width="1.2" />
<line x1="31.30" y1="243.00" x2="34.30" y2="243.00" stroke="#1a1a1a" stroke-width="1" />
<text transform="translate(28.60,245.63) scale(1.08,1)" font-size="7.3" text-anchor="end" stroke="#262626" stroke-width="0.2" >0</text>
<line x1="31.30" y1="227.60" x2="34.30" y2="227.60" stroke="#1a1a1a" stroke-width="1" />
<text transform="translate(28.60,230.23) scale(1.08,1)" font-size="7.3" text-anchor="end" stroke="#262626" stroke-width="0.2" >10</text>
<line x1="31.30" y1="212.20" x2="34.30" y2="212.20" stroke="#1a1a1a" stroke-width="1" />
<text transform="translate(28.60,214.83) scale(1.08,1)" font-size="7.3" text-anchor="end" stroke="#262626" stroke-width="0.2" >20</text>
<line x1="31.30" y1="196.80" x2="34.30" y2="196.80" stroke="#1a1a1a" stroke-width="1" />
<text transform="translate(28.60,199.43) scale(1.08,1)" font-size="7.3" text-anchor="end" stroke="#262626" stroke-width="0.2" >30</text>
<line x1="31.30" y1="181.40" x2="34.30" y2="181.40" stroke="#1a1a1a" stroke-width="1" />
<text transform="translate(28.60,184.03) scale(1.08,1)" font-size="7.3" text-anchor="end" stroke="#262626" stroke-width="0.2" >40</text>
<line x1="31.30" y1="166.00" x2="34.30" y2="166.00" stroke="#1a1a1a" stroke-width="1" />
<text transform="translate(28.60,168.63) scale(1.08,1)" font-size="7.3" text-anchor="end" stroke="#262626" stroke-width="0.2" >50</text>
<line x1="34.30" y1="243.00" x2="265.80" y2="243.00" stroke="#1a1a1a" stroke-width="1.2" />
<text transform="translate(13.90,221.45) rotate(-90) scale(1,1.13)" font-size="7.6" stroke="#262626" stroke-width="0.2" textLength="35.70" lengthAdjust="spacingAndGlyphs" >CD11b (%)</text>
<text transform="translate(56.15,159.85)" font-size="7.5" stroke="#262626" stroke-width="0.2" textLength="14.30" lengthAdjust="spacingAndGlyphs" >NB4</text>
<rect x="41.20" y="239.50" width="8.10" height="3.50" fill="#0d0d0d" />
<rect x="50.55" y="235.00" width="8.10" height="8.00" fill="#cfd0e2" />
<rect x="59.90" y="230.60" width="8.10" height="12.40" fill="#a2a8cc" />
<rect x="69.25" y="222.20" width="8.10" height="20.80" fill="#6474ae" />
<rect x="78.60" y="182.00" width="8.10" height="61.00" fill="#2c4c8e" />
<line x1="45.25" y1="236.00" x2="45.25" y2="239.50" stroke="#353535" stroke-width="1.25" />
<line x1="42.25" y1="236.00" x2="48.25" y2="236.00" stroke="#353535" stroke-width="1.25" />
<line x1="54.60" y1="231.30" x2="54.60" y2="235.00" stroke="#353535" stroke-width="1.25" />
<line x1="51.60" y1="231.30" x2="57.60" y2="231.30" stroke="#353535" stroke-width="1.25" />
<line x1="63.95" y1="222.40" x2="63.95" y2="230.60" stroke="#353535" stroke-width="1.25" />
<line x1="60.95" y1="222.40" x2="66.95" y2="222.40" stroke="#353535" stroke-width="1.25" />
<text transform="translate(64.05,222.59)" font-size="7.6" text-anchor="middle" fill="#1a1a1a" stroke="#1a1a1a" stroke-width="0.15" letter-spacing="0.1">*</text>
<line x1="73.30" y1="211.20" x2="73.30" y2="222.20" stroke="#353535" stroke-width="1.25" />
<line x1="70.30" y1="211.20" x2="76.30" y2="211.20" stroke="#353535" stroke-width="1.25" />
<text transform="translate(73.40,211.39)" font-size="7.6" text-anchor="middle" fill="#1a1a1a" stroke="#1a1a1a" stroke-width="0.15" letter-spacing="0.1">***</text>
<line x1="82.65" y1="171.70" x2="82.65" y2="182.00" stroke="#353535" stroke-width="1.25" />
<line x1="79.65" y1="171.70" x2="85.65" y2="171.70" stroke="#353535" stroke-width="1.25" />
<text transform="translate(82.75,171.89)" font-size="7.6" text-anchor="middle" fill="#1a1a1a" stroke="#1a1a1a" stroke-width="0.15" letter-spacing="0.1">***</text>
<text transform="translate(32.35,252.95)" font-size="7.5" stroke="#262626" stroke-width="0.2" textLength="13.50" lengthAdjust="spacingAndGlyphs" >Con</text>
<text transform="translate(50.45,253.15)" font-size="7.2" stroke="#262626" stroke-width="0.2" textLength="9.00" lengthAdjust="spacingAndGlyphs" >0.5</text>
<text transform="translate(65.10,253.30)" font-size="7.2" text-anchor="middle" stroke="#262626" stroke-width="0.2" >1</text>
<text transform="translate(72.80,253.30)" font-size="7.2" text-anchor="middle" stroke="#262626" stroke-width="0.2" >2</text>
<text transform="translate(81.00,253.30)" font-size="7.2" text-anchor="middle" stroke="#262626" stroke-width="0.2" >4</text>
<line x1="49.90" y1="257.00" x2="83.00" y2="257.00" stroke="#222" stroke-width="1.2" />
<text transform="translate(43.15,265.75)" font-size="7.5" stroke="#262626" stroke-width="0.2" textLength="45.10" lengthAdjust="spacingAndGlyphs" >SU9516 (&#181;M)</text>
<text transform="translate(109.55,159.85)" font-size="7.5" stroke="#262626" stroke-width="0.2" textLength="17.00" lengthAdjust="spacingAndGlyphs" >U937</text>
<rect x="96.65" y="234.00" width="8.10" height="9.00" fill="#0d0d0d" />
<rect x="106.00" y="223.50" width="8.10" height="19.50" fill="#cfd0e2" />
<rect x="115.35" y="215.70" width="8.10" height="27.30" fill="#a2a8cc" />
<rect x="124.70" y="207.60" width="8.10" height="35.40" fill="#6474ae" />
<rect x="134.05" y="185.50" width="8.10" height="57.50" fill="#2c4c8e" />
<line x1="100.70" y1="229.80" x2="100.70" y2="234.00" stroke="#353535" stroke-width="1.25" />
<line x1="97.70" y1="229.80" x2="103.70" y2="229.80" stroke="#353535" stroke-width="1.25" />
<line x1="110.05" y1="211.30" x2="110.05" y2="223.50" stroke="#353535" stroke-width="1.25" />
<line x1="107.05" y1="211.30" x2="113.05" y2="211.30" stroke="#353535" stroke-width="1.25" />
<text transform="translate(110.15,211.49)" font-size="7.6" text-anchor="middle" fill="#1a1a1a" stroke="#1a1a1a" stroke-width="0.15" letter-spacing="0.1">*</text>
<line x1="119.40" y1="202.70" x2="119.40" y2="215.70" stroke="#353535" stroke-width="1.25" />
<line x1="116.40" y1="202.70" x2="122.40" y2="202.70" stroke="#353535" stroke-width="1.25" />
<text transform="translate(119.50,202.89)" font-size="7.6" text-anchor="middle" fill="#1a1a1a" stroke="#1a1a1a" stroke-width="0.15" letter-spacing="0.1">***</text>
<line x1="128.75" y1="199.80" x2="128.75" y2="207.60" stroke="#353535" stroke-width="1.25" />
<line x1="125.75" y1="199.80" x2="131.75" y2="199.80" stroke="#353535" stroke-width="1.25" />
<text transform="translate(128.85,199.99)" font-size="7.6" text-anchor="middle" fill="#1a1a1a" stroke="#1a1a1a" stroke-width="0.15" letter-spacing="0.1">***</text>
<line x1="138.10" y1="174.50" x2="138.10" y2="185.50" stroke="#353535" stroke-width="1.25" />
<line x1="135.10" y1="174.50" x2="141.10" y2="174.50" stroke="#353535" stroke-width="1.25" />
<text transform="translate(138.20,174.69)" font-size="7.6" text-anchor="middle" fill="#1a1a1a" stroke="#1a1a1a" stroke-width="0.15" letter-spacing="0.1">***</text>
<text transform="translate(87.80,252.95)" font-size="7.5" stroke="#262626" stroke-width="0.2" textLength="13.50" lengthAdjust="spacingAndGlyphs" >Con</text>
<text transform="translate(105.90,253.15)" font-size="7.2" stroke="#262626" stroke-width="0.2" textLength="9.00" lengthAdjust="spacingAndGlyphs" >0.5</text>
<text transform="translate(120.55,253.30)" font-size="7.2" text-anchor="middle" stroke="#262626" stroke-width="0.2" >1</text>
<text transform="translate(128.25,253.30)" font-size="7.2" text-anchor="middle" stroke="#262626" stroke-width="0.2" >2</text>
<text transform="translate(136.45,253.30)" font-size="7.2" text-anchor="middle" stroke="#262626" stroke-width="0.2" >4</text>
<line x1="105.35" y1="257.00" x2="138.45" y2="257.00" stroke="#222" stroke-width="1.2" />
<text transform="translate(98.60,265.75)" font-size="7.5" stroke="#262626" stroke-width="0.2" textLength="45.10" lengthAdjust="spacingAndGlyphs" >SU9516 (&#181;M)</text>
<text transform="translate(164.15,159.85)" font-size="7.5" stroke="#262626" stroke-width="0.2" textLength="17.80" lengthAdjust="spacingAndGlyphs" >HL60</text>
<rect x="152.10" y="232.10" width="8.10" height="10.90" fill="#0d0d0d" />
<rect x="161.45" y="219.40" width="8.10" height="23.60" fill="#cfd0e2" />
<rect x="170.80" y="208.30" width="8.10" height="34.70" fill="#a2a8cc" />
<rect x="180.15" y="205.90" width="8.10" height="37.10" fill="#6474ae" />
<rect x="189.50" y="175.70" width="8.10" height="67.30" fill="#2c4c8e" />
<line x1="156.15" y1="231.00" x2="156.15" y2="232.10" stroke="#353535" stroke-width="1.25" />
<line x1="153.15" y1="231.00" x2="159.15" y2="231.00" stroke="#353535" stroke-width="1.25" />
<line x1="165.50" y1="215.00" x2="165.50" y2="219.40" stroke="#353535" stroke-width="1.25" />
<line x1="162.50" y1="215.00" x2="168.50" y2="215.00" stroke="#353535" stroke-width="1.25" />
<text transform="translate(165.60,215.19)" font-size="7.6" text-anchor="middle" fill="#1a1a1a" stroke="#1a1a1a" stroke-width="0.15" letter-spacing="0.1">*</text>
<line x1="174.85" y1="201.00" x2="174.85" y2="208.30" stroke="#353535" stroke-width="1.25" />
<line x1="171.85" y1="201.00" x2="177.85" y2="201.00" stroke="#353535" stroke-width="1.25" />
<text transform="translate(174.95,201.19)" font-size="7.6" text-anchor="middle" fill="#1a1a1a" stroke="#1a1a1a" stroke-width="0.15" letter-spacing="0.1">*</text>
<line x1="184.20" y1="205.00" x2="184.20" y2="205.90" stroke="#353535" stroke-width="1.25" />
<line x1="181.20" y1="205.00" x2="187.20" y2="205.00" stroke="#353535" stroke-width="1.25" />
<text transform="translate(184.30,205.19)" font-size="7.6" text-anchor="middle" fill="#1a1a1a" stroke="#1a1a1a" stroke-width="0.15" letter-spacing="0.1">***</text>
<line x1="193.55" y1="172.50" x2="193.55" y2="175.70" stroke="#353535" stroke-width="1.25" />
<line x1="190.55" y1="172.50" x2="196.55" y2="172.50" stroke="#353535" stroke-width="1.25" />
<text transform="translate(193.65,172.69)" font-size="7.6" text-anchor="middle" fill="#1a1a1a" stroke="#1a1a1a" stroke-width="0.15" letter-spacing="0.1">**</text>
<text transform="translate(143.25,252.95)" font-size="7.5" stroke="#262626" stroke-width="0.2" textLength="13.50" lengthAdjust="spacingAndGlyphs" >Con</text>
<text transform="translate(161.35,253.15)" font-size="7.2" stroke="#262626" stroke-width="0.2" textLength="9.00" lengthAdjust="spacingAndGlyphs" >0.5</text>
<text transform="translate(176.00,253.30)" font-size="7.2" text-anchor="middle" stroke="#262626" stroke-width="0.2" >1</text>
<text transform="translate(183.70,253.30)" font-size="7.2" text-anchor="middle" stroke="#262626" stroke-width="0.2" >2</text>
<text transform="translate(191.90,253.30)" font-size="7.2" text-anchor="middle" stroke="#262626" stroke-width="0.2" >4</text>
<line x1="160.80" y1="257.00" x2="193.90" y2="257.00" stroke="#222" stroke-width="1.2" />
<text transform="translate(154.05,265.75)" font-size="7.5" stroke="#262626" stroke-width="0.2" textLength="45.10" lengthAdjust="spacingAndGlyphs" >SU9516 (&#181;M)</text>
<text transform="translate(217.25,159.85)" font-size="7.5" stroke="#262626" stroke-width="0.2" textLength="19.30" lengthAdjust="spacingAndGlyphs" >THP-1</text>
<rect x="207.55" y="233.80" width="8.10" height="9.20" fill="#0d0d0d" />
<rect x="216.90" y="223.50" width="8.10" height="19.50" fill="#cfd0e2" />
<rect x="226.25" y="219.90" width="8.10" height="23.10" fill="#a2a8cc" />
<rect x="235.60" y="207.10" width="8.10" height="35.90" fill="#6474ae" />
<rect x="244.95" y="186.30" width="8.10" height="56.70" fill="#2c4c8e" />
<line x1="211.60" y1="230.40" x2="211.60" y2="233.80" stroke="#353535" stroke-width="1.25" />
<line x1="208.60" y1="230.40" x2="214.60" y2="230.40" stroke="#353535" stroke-width="1.25" />
<line x1="220.95" y1="221.80" x2="220.95" y2="223.50" stroke="#353535" stroke-width="1.25" />
<line x1="217.95" y1="221.80" x2="223.95" y2="221.80" stroke="#353535" stroke-width="1.25" />
<text transform="translate(221.05,221.99)" font-size="7.6" text-anchor="middle" fill="#1a1a1a" stroke="#1a1a1a" stroke-width="0.15" letter-spacing="0.1">*</text>
<line x1="230.30" y1="218.60" x2="230.30" y2="219.90" stroke="#353535" stroke-width="1.25" />
<line x1="227.30" y1="218.60" x2="233.30" y2="218.60" stroke="#353535" stroke-width="1.25" />
<text transform="translate(230.40,218.79)" font-size="7.6" text-anchor="middle" fill="#1a1a1a" stroke="#1a1a1a" stroke-width="0.15" letter-spacing="0.1">**</text>
<line x1="239.65" y1="201.00" x2="239.65" y2="207.10" stroke="#353535" stroke-width="1.25" />
<line x1="236.65" y1="201.00" x2="242.65" y2="201.00" stroke="#353535" stroke-width="1.25" />
<text transform="translate(239.75,201.19)" font-size="7.6" text-anchor="middle" fill="#1a1a1a" stroke="#1a1a1a" stroke-width="0.15" letter-spacing="0.1">**</text>
<line x1="249.00" y1="180.00" x2="249.00" y2="186.30" stroke="#353535" stroke-width="1.25" />
<line x1="246.00" y1="180.00" x2="252.00" y2="180.00" stroke="#353535" stroke-width="1.25" />
<text transform="translate(249.10,180.19)" font-size="7.6" text-anchor="middle" fill="#1a1a1a" stroke="#1a1a1a" stroke-width="0.15" letter-spacing="0.1">**</text>
<text transform="translate(198.70,252.95)" font-size="7.5" stroke="#262626" stroke-width="0.2" textLength="13.50" lengthAdjust="spacingAndGlyphs" >Con</text>
<text transform="translate(216.80,253.15)" font-size="7.2" stroke="#262626" stroke-width="0.2" textLength="9.00" lengthAdjust="spacingAndGlyphs" >0.5</text>
<text transform="translate(231.45,253.30)" font-size="7.2" text-anchor="middle" stroke="#262626" stroke-width="0.2" >1</text>
<text transform="translate(239.15,253.30)" font-size="7.2" text-anchor="middle" stroke="#262626" stroke-width="0.2" >2</text>
<text transform="translate(247.35,253.30)" font-size="7.2" text-anchor="middle" stroke="#262626" stroke-width="0.2" >4</text>
<line x1="216.25" y1="257.00" x2="249.35" y2="257.00" stroke="#222" stroke-width="1.2" />
<text transform="translate(209.50,265.75)" font-size="7.5" stroke="#262626" stroke-width="0.2" textLength="45.10" lengthAdjust="spacingAndGlyphs" >SU9516 (&#181;M)</text>
<text transform="translate(275.20,153.40) scale(1.1,1)" font-size="10.0" font-weight="bold" fill="#111" stroke="#111" stroke-width="0.35" >E</text>
<line x1="309.60" y1="163.30" x2="309.60" y2="243.50" stroke="#1a1a1a" stroke-width="1.2" />
<line x1="306.60" y1="242.90" x2="309.60" y2="242.90" stroke="#1a1a1a" stroke-width="1" />
<text transform="translate(303.30,245.53) scale(1.08,1)" font-size="7.3" text-anchor="end" stroke="#262626" stroke-width="0.2" >0</text>
<line x1="306.60" y1="217.17" x2="309.60" y2="217.17" stroke="#1a1a1a" stroke-width="1" />
<text transform="translate(303.30,219.79) scale(1.08,1)" font-size="7.3" text-anchor="end" stroke="#262626" stroke-width="0.2" >10</text>
<line x1="306.60" y1="191.43" x2="309.60" y2="191.43" stroke="#1a1a1a" stroke-width="1" />
<text transform="translate(303.30,194.06) scale(1.08,1)" font-size="7.3" text-anchor="end" stroke="#262626" stroke-width="0.2" >20</text>
<line x1="306.60" y1="165.70" x2="309.60" y2="165.70" stroke="#1a1a1a" stroke-width="1" />
<text transform="translate(303.30,168.33) scale(1.08,1)" font-size="7.3" text-anchor="end" stroke="#262626" stroke-width="0.2" >30</text>
<line x1="309.60" y1="242.90" x2="367.60" y2="242.90" stroke="#1a1a1a" stroke-width="1.2" />
<text transform="translate(333.05,160.25)" font-size="7.5" stroke="#262626" stroke-width="0.2" textLength="17.80" lengthAdjust="spacingAndGlyphs" >HL60</text>
<rect x="313.60" y="233.30" width="8.20" height="9.60" fill="#0d0d0d" />
<rect x="324.20" y="229.70" width="8.20" height="13.20" fill="#cfd0e2" />
<rect x="334.90" y="230.00" width="8.20" height="12.90" fill="#a2a8cc" />
<rect x="345.40" y="222.80" width="8.20" height="20.10" fill="#6474ae" />
<rect x="356.00" y="197.80" width="8.20" height="45.10" fill="#2c4c8e" />
<line x1="317.70" y1="231.60" x2="317.70" y2="233.30" stroke="#353535" stroke-width="1.25" />
<line x1="314.70" y1="231.60" x2="320.70" y2="231.60" stroke="#353535" stroke-width="1.25" />
<line x1="328.30" y1="228.40" x2="328.30" y2="229.70" stroke="#353535" stroke-width="1.25" />
<line x1="325.30" y1="228.40" x2="331.30" y2="228.40" stroke="#353535" stroke-width="1.25" />
<text transform="translate(328.40,228.59)" font-size="7.6" text-anchor="middle" fill="#1a1a1a" stroke="#1a1a1a" stroke-width="0.15" letter-spacing="0.1">*</text>
<line x1="339.00" y1="228.40" x2="339.00" y2="230.00" stroke="#353535" stroke-width="1.25" />
<line x1="336.00" y1="228.40" x2="342.00" y2="228.40" stroke="#353535" stroke-width="1.25" />
<text transform="translate(339.10,228.59)" font-size="7.6" text-anchor="middle" fill="#1a1a1a" stroke="#1a1a1a" stroke-width="0.15" letter-spacing="0.1">*</text>
<line x1="349.50" y1="219.40" x2="349.50" y2="222.80" stroke="#353535" stroke-width="1.25" />
<line x1="346.50" y1="219.40" x2="352.50" y2="219.40" stroke="#353535" stroke-width="1.25" />
<text transform="translate(349.60,219.59)" font-size="7.6" text-anchor="middle" fill="#1a1a1a" stroke="#1a1a1a" stroke-width="0.15" letter-spacing="0.1">***</text>
<line x1="360.10" y1="186.80" x2="360.10" y2="197.80" stroke="#353535" stroke-width="1.25" />
<line x1="357.10" y1="186.80" x2="363.10" y2="186.80" stroke="#353535" stroke-width="1.25" />
<text transform="translate(360.20,186.99)" font-size="7.6" text-anchor="middle" fill="#1a1a1a" stroke="#1a1a1a" stroke-width="0.15" letter-spacing="0.1">***</text>
<text transform="translate(308.05,252.95)" font-size="7.5" stroke="#262626" stroke-width="0.2" textLength="13.60" lengthAdjust="spacingAndGlyphs" >Con</text>
<text transform="translate(328.00,253.10) scale(1.08,1)" font-size="7.5" text-anchor="middle" stroke="#262626" stroke-width="0.2" >1</text>
<text transform="translate(338.50,253.10) scale(1.08,1)" font-size="7.5" text-anchor="middle" stroke="#262626" stroke-width="0.2" >2</text>
<text transform="translate(349.00,253.10) scale(1.08,1)" font-size="7.5" text-anchor="middle" stroke="#262626" stroke-width="0.2" >4</text>
<text transform="translate(360.60,253.10) scale(1.08,1)" font-size="7.5" text-anchor="middle" stroke="#262626" stroke-width="0.2" >8</text>
<line x1="322.00" y1="256.60" x2="363.80" y2="256.60" stroke="#222" stroke-width="1.1" />
<text transform="translate(320.35,266.35)" font-size="7.5" stroke="#262626" stroke-width="0.2" textLength="45.60" lengthAdjust="spacingAndGlyphs" >CVT313 (&#181;M)</text>
<line x1="391.70" y1="164.70" x2="391.70" y2="243.70" stroke="#1a1a1a" stroke-width="1.2" />
<line x1="388.70" y1="243.10" x2="391.70" y2="243.10" stroke="#1a1a1a" stroke-width="1" />
<text transform="translate(385.80,245.73) scale(1.08,1)" font-size="7.3" text-anchor="end" stroke="#262626" stroke-width="0.2" >0</text>
<line x1="388.70" y1="224.10" x2="391.70" y2="224.10" stroke="#1a1a1a" stroke-width="1" />
<text transform="translate(385.80,226.73) scale(1.08,1)" font-size="7.3" text-anchor="end" stroke="#262626" stroke-width="0.2" >10</text>
<line x1="388.70" y1="205.10" x2="391.70" y2="205.10" stroke="#1a1a1a" stroke-width="1" />
<text transform="translate(385.80,207.73) scale(1.08,1)" font-size="7.3" text-anchor="end" stroke="#262626" stroke-width="0.2" >20</text>
<line x1="388.70" y1="186.10" x2="391.70" y2="186.10" stroke="#1a1a1a" stroke-width="1" />
<text transform="translate(385.80,188.73) scale(1.08,1)" font-size="7.3" text-anchor="end" stroke="#262626" stroke-width="0.2" >30</text>
<line x1="388.70" y1="167.10" x2="391.70" y2="167.10" stroke="#1a1a1a" stroke-width="1" />
<text transform="translate(385.80,169.73) scale(1.08,1)" font-size="7.3" text-anchor="end" stroke="#262626" stroke-width="0.2" >40</text>
<line x1="391.70" y1="243.10" x2="448.70" y2="243.10" stroke="#1a1a1a" stroke-width="1.2" />
<text transform="translate(415.05,160.25)" font-size="7.5" stroke="#262626" stroke-width="0.2" textLength="17.30" lengthAdjust="spacingAndGlyphs" >HL60</text>
<rect x="395.40" y="234.60" width="8.20" height="8.50" fill="#0d0d0d" />
<rect x="405.90" y="230.40" width="8.20" height="12.70" fill="#cfd0e2" />
<rect x="416.30" y="228.90" width="8.20" height="14.20" fill="#a2a8cc" />
<rect x="427.10" y="219.40" width="8.20" height="23.70" fill="#6474ae" />
<rect x="437.80" y="197.80" width="8.20" height="45.30" fill="#2c4c8e" />
<line x1="399.50" y1="231.60" x2="399.50" y2="234.60" stroke="#353535" stroke-width="1.25" />
<line x1="396.50" y1="231.60" x2="402.50" y2="231.60" stroke="#353535" stroke-width="1.25" />
<line x1="410.00" y1="226.00" x2="410.00" y2="230.40" stroke="#353535" stroke-width="1.25" />
<line x1="407.00" y1="226.00" x2="413.00" y2="226.00" stroke="#353535" stroke-width="1.25" />
<line x1="420.40" y1="222.80" x2="420.40" y2="228.90" stroke="#353535" stroke-width="1.25" />
<line x1="417.40" y1="222.80" x2="423.40" y2="222.80" stroke="#353535" stroke-width="1.25" />
<text transform="translate(420.50,222.99)" font-size="7.6" text-anchor="middle" fill="#1a1a1a" stroke="#1a1a1a" stroke-width="0.15" letter-spacing="0.1">*</text>
<line x1="431.20" y1="215.70" x2="431.20" y2="219.40" stroke="#353535" stroke-width="1.25" />
<line x1="428.20" y1="215.70" x2="434.20" y2="215.70" stroke="#353535" stroke-width="1.25" />
<text transform="translate(431.30,215.89)" font-size="7.6" text-anchor="middle" fill="#1a1a1a" stroke="#1a1a1a" stroke-width="0.15" letter-spacing="0.1">***</text>
<line x1="441.90" y1="181.90" x2="441.90" y2="197.80" stroke="#353535" stroke-width="1.25" />
<line x1="438.90" y1="181.90" x2="444.90" y2="181.90" stroke="#353535" stroke-width="1.25" />
<text transform="translate(442.00,182.09)" font-size="7.6" text-anchor="middle" fill="#1a1a1a" stroke="#1a1a1a" stroke-width="0.15" letter-spacing="0.1">***</text>
<text transform="translate(388.65,252.95)" font-size="7.5" stroke="#262626" stroke-width="0.2" textLength="14.00" lengthAdjust="spacingAndGlyphs" >Con</text>
<text transform="translate(410.00,253.10) scale(1.08,1)" font-size="7.5" text-anchor="middle" stroke="#262626" stroke-width="0.2" >2</text>
<text transform="translate(421.50,253.10) scale(1.08,1)" font-size="7.5" text-anchor="middle" stroke="#262626" stroke-width="0.2" >4</text>
<text transform="translate(430.80,253.10) scale(1.08,1)" font-size="7.5" text-anchor="middle" stroke="#262626" stroke-width="0.2" >8</text>
<text transform="translate(441.50,253.10) scale(1.08,1)" font-size="7.5" text-anchor="middle" stroke="#262626" stroke-width="0.2" >16</text>
<line x1="404.60" y1="256.60" x2="447.00" y2="256.60" stroke="#222" stroke-width="1.1" />
<text transform="translate(401.35,266.35)" font-size="7.5" stroke="#262626" stroke-width="0.2" textLength="45.30" lengthAdjust="spacingAndGlyphs" >Nu6102 (&#181;M)</text>
<text transform="translate(291.40,222.25) rotate(-90) scale(1,1.13)" font-size="7.6" stroke="#262626" stroke-width="0.2" textLength="34.90" lengthAdjust="spacingAndGlyphs" >CD11b (%)</text>
<text transform="translate(7.20,285.00) scale(1.1,1)" font-size="10.0" font-weight="bold" fill="#111" stroke="#111" stroke-width="0.35" >F</text>
<line x1="34.30" y1="294.90" x2="34.30" y2="373.60" stroke="#1a1a1a" stroke-width="1.2" />
<line x1="31.30" y1="373.00" x2="34.30" y2="373.00" stroke="#1a1a1a" stroke-width="1" />
<text transform="translate(28.60,375.63) scale(1.08,1)" font-size="7.3" text-anchor="end" stroke="#262626" stroke-width="0.2" >0</text>
<line x1="31.30" y1="347.77" x2="34.30" y2="347.77" stroke="#1a1a1a" stroke-width="1" />
<text transform="translate(28.60,350.39) scale(1.08,1)" font-size="7.3" text-anchor="end" stroke="#262626" stroke-width="0.2" >20</text>
<line x1="31.30" y1="322.53" x2="34.30" y2="322.53" stroke="#1a1a1a" stroke-width="1" />
<text transform="translate(28.60,325.16) scale(1.08,1)" font-size="7.3" text-anchor="end" stroke="#262626" stroke-width="0.2" >40</text>
<line x1="31.30" y1="297.30" x2="34.30" y2="297.30" stroke="#1a1a1a" stroke-width="1" />
<text transform="translate(28.60,299.93) scale(1.08,1)" font-size="7.3" text-anchor="end" stroke="#262626" stroke-width="0.2" >60</text>
<line x1="34.30" y1="373.00" x2="146.20" y2="373.00" stroke="#1a1a1a" stroke-width="1.2" />
<text transform="translate(13.90,364.65) rotate(-90) scale(1,1.13)" font-size="7.6" stroke="#262626" stroke-width="0.2" textLength="62.30" lengthAdjust="spacingAndGlyphs" >Bacteria killing (%)</text>
<text transform="translate(47.05,292.55)" font-size="7.5" stroke="#262626" stroke-width="0.2" textLength="14.10" lengthAdjust="spacingAndGlyphs" >NB4</text>
<rect x="39.60" y="360.70" width="8.10" height="12.30" fill="#0d0d0d" />
<rect x="48.60" y="355.00" width="8.10" height="18.00" fill="#6474ae" />
<rect x="57.60" y="321.80" width="8.10" height="51.20" fill="#2c4c8e" />
<line x1="43.65" y1="353.50" x2="43.65" y2="360.70" stroke="#353535" stroke-width="1.25" />
<line x1="40.65" y1="353.50" x2="46.65" y2="353.50" stroke="#353535" stroke-width="1.25" />
<line x1="52.65" y1="347.30" x2="52.65" y2="355.00" stroke="#353535" stroke-width="1.25" />
<line x1="49.65" y1="347.30" x2="55.65" y2="347.30" stroke="#353535" stroke-width="1.25" />
<line x1="61.65" y1="313.20" x2="61.65" y2="321.80" stroke="#353535" stroke-width="1.25" />
<line x1="58.65" y1="313.20" x2="64.65" y2="313.20" stroke="#353535" stroke-width="1.25" />
<text transform="translate(61.75,313.39)" font-size="7.6" text-anchor="middle" fill="#1a1a1a" stroke="#1a1a1a" stroke-width="0.15" letter-spacing="0.1">***</text>
<text transform="translate(33.75,382.15)" font-size="7.5" stroke="#262626" stroke-width="0.2" textLength="13.40" lengthAdjust="spacingAndGlyphs" >Con</text>
<text transform="translate(52.10,382.30) scale(1.08,1)" font-size="7.5" text-anchor="middle" stroke="#262626" stroke-width="0.2" >2</text>
<text transform="translate(61.30,382.30) scale(1.08,1)" font-size="7.5" text-anchor="middle" stroke="#262626" stroke-width="0.2" >4</text>
<text transform="translate(83.65,292.55)" font-size="7.5" stroke="#262626" stroke-width="0.2" textLength="17.50" lengthAdjust="spacingAndGlyphs" >U937</text>
<rect x="76.45" y="351.60" width="8.10" height="21.40" fill="#0d0d0d" />
<rect x="85.45" y="337.60" width="8.10" height="35.40" fill="#6474ae" />
<rect x="94.45" y="322.70" width="8.10" height="50.30" fill="#2c4c8e" />
<line x1="80.50" y1="337.60" x2="80.50" y2="351.60" stroke="#353535" stroke-width="1.25" />
<line x1="77.50" y1="337.60" x2="83.50" y2="337.60" stroke="#353535" stroke-width="1.25" />
<line x1="89.50" y1="333.00" x2="89.50" y2="337.60" stroke="#353535" stroke-width="1.25" />
<line x1="86.50" y1="333.00" x2="92.50" y2="333.00" stroke="#353535" stroke-width="1.25" />
<text transform="translate(89.60,333.19)" font-size="7.6" text-anchor="middle" fill="#1a1a1a" stroke="#1a1a1a" stroke-width="0.15" letter-spacing="0.1">*</text>
<line x1="98.50" y1="314.10" x2="98.50" y2="322.70" stroke="#353535" stroke-width="1.25" />
<line x1="95.50" y1="314.10" x2="101.50" y2="314.10" stroke="#353535" stroke-width="1.25" />
<text transform="translate(98.60,314.29)" font-size="7.6" text-anchor="middle" fill="#1a1a1a" stroke="#1a1a1a" stroke-width="0.15" letter-spacing="0.1">**</text>
<text transform="translate(70.60,382.15)" font-size="7.5" stroke="#262626" stroke-width="0.2" textLength="13.40" lengthAdjust="spacingAndGlyphs" >Con</text>
<text transform="translate(88.95,382.30) scale(1.08,1)" font-size="7.5" text-anchor="middle" stroke="#262626" stroke-width="0.2" >2</text>
<text transform="translate(98.15,382.30) scale(1.08,1)" font-size="7.5" text-anchor="middle" stroke="#262626" stroke-width="0.2" >4</text>
<text transform="translate(119.55,292.55)" font-size="7.5" stroke="#262626" stroke-width="0.2" textLength="20.50" lengthAdjust="spacingAndGlyphs" >THP-1</text>
<rect x="113.30" y="364.50" width="8.10" height="8.50" fill="#0d0d0d" />
<rect x="122.30" y="346.50" width="8.10" height="26.50" fill="#6474ae" />
<rect x="131.30" y="317.30" width="8.10" height="55.70" fill="#2c4c8e" />
<line x1="117.35" y1="342.00" x2="117.35" y2="364.50" stroke="#353535" stroke-width="1.25" />
<line x1="114.35" y1="342.00" x2="120.35" y2="342.00" stroke="#353535" stroke-width="1.25" />
<line x1="126.35" y1="341.60" x2="126.35" y2="346.50" stroke="#353535" stroke-width="1.25" />
<line x1="123.35" y1="341.60" x2="129.35" y2="341.60" stroke="#353535" stroke-width="1.25" />
<line x1="135.35" y1="305.20" x2="135.35" y2="317.30" stroke="#353535" stroke-width="1.25" />
<line x1="132.35" y1="305.20" x2="138.35" y2="305.20" stroke="#353535" stroke-width="1.25" />
<text transform="translate(135.45,305.39)" font-size="7.6" text-anchor="middle" fill="#1a1a1a" stroke="#1a1a1a" stroke-width="0.15" letter-spacing="0.1">*</text>
<text transform="translate(107.45,382.15)" font-size="7.5" stroke="#262626" stroke-width="0.2" textLength="13.40" lengthAdjust="spacingAndGlyphs" >Con</text>
<text transform="translate(125.80,382.30) scale(1.08,1)" font-size="7.5" text-anchor="middle" stroke="#262626" stroke-width="0.2" >2</text>
<text transform="translate(135.00,382.30) scale(1.08,1)" font-size="7.5" text-anchor="middle" stroke="#262626" stroke-width="0.2" >4</text>
<line x1="38.70" y1="386.90" x2="139.70" y2="386.90" stroke="#222" stroke-width="1.1" />
<text transform="translate(73.15,395.45)" font-size="7.5" stroke="#262626" stroke-width="0.2" textLength="45.40" lengthAdjust="spacingAndGlyphs" >SU9516 (&#181;M)</text>
<text transform="translate(156.20,284.00) scale(1.1,1)" font-size="10.0" font-weight="bold" fill="#111" stroke="#111" stroke-width="0.35" >G</text>
<text transform="translate(226.55,285.65)" font-size="7.5" stroke="#262626" stroke-width="0.2" textLength="18.50" lengthAdjust="spacingAndGlyphs" >HSCs</text>
<line x1="183.80" y1="294.60" x2="183.80" y2="373.90" stroke="#1a1a1a" stroke-width="1.2" />
<line x1="180.80" y1="373.30" x2="183.80" y2="373.30" stroke="#1a1a1a" stroke-width="1" />
<text transform="translate(178.80,375.93) scale(1.08,1)" font-size="7.3" text-anchor="end" stroke="#262626" stroke-width="0.2" >0</text>
<line x1="180.80" y1="362.40" x2="183.80" y2="362.40" stroke="#1a1a1a" stroke-width="1" />
<text transform="translate(178.80,365.03) scale(1.08,1)" font-size="7.3" text-anchor="end" stroke="#262626" stroke-width="0.2" >2</text>
<line x1="180.80" y1="351.50" x2="183.80" y2="351.50" stroke="#1a1a1a" stroke-width="1" />
<text transform="translate(178.80,354.13) scale(1.08,1)" font-size="7.3" text-anchor="end" stroke="#262626" stroke-width="0.2" >4</text>
<line x1="180.80" y1="340.60" x2="183.80" y2="340.60" stroke="#1a1a1a" stroke-width="1" />
<text transform="translate(178.80,343.23) scale(1.08,1)" font-size="7.3" text-anchor="end" stroke="#262626" stroke-width="0.2" >6</text>
<line x1="180.80" y1="329.70" x2="183.80" y2="329.70" stroke="#1a1a1a" stroke-width="1" />
<text transform="translate(178.80,332.33) scale(1.08,1)" font-size="7.3" text-anchor="end" stroke="#262626" stroke-width="0.2" >8</text>
<line x1="180.80" y1="318.80" x2="183.80" y2="318.80" stroke="#1a1a1a" stroke-width="1" />
<text transform="translate(178.80,321.43) scale(1.08,1)" font-size="7.3" text-anchor="end" stroke="#262626" stroke-width="0.2" >10</text>
<line x1="180.80" y1="307.90" x2="183.80" y2="307.90" stroke="#1a1a1a" stroke-width="1" />
<text transform="translate(178.80,310.53) scale(1.08,1)" font-size="7.3" text-anchor="end" stroke="#262626" stroke-width="0.2" >12</text>
<line x1="180.80" y1="297.00" x2="183.80" y2="297.00" stroke="#1a1a1a" stroke-width="1" />
<text transform="translate(178.80,299.63) scale(1.08,1)" font-size="7.3" text-anchor="end" stroke="#262626" stroke-width="0.2" >14</text>
<line x1="183.80" y1="373.30" x2="285.70" y2="373.30" stroke="#1a1a1a" stroke-width="1.2" />
<line x1="184.00" y1="373.30" x2="184.00" y2="375.90" stroke="#1a1a1a" stroke-width="1" />
<text transform="translate(184.00,385.30) scale(1.08,1)" font-size="7.5" text-anchor="middle" stroke="#262626" stroke-width="0.2" >0</text>
<line x1="206.60" y1="373.30" x2="206.60" y2="375.90" stroke="#1a1a1a" stroke-width="1" />
<text transform="translate(206.60,385.30) scale(1.08,1)" font-size="7.5" text-anchor="middle" stroke="#262626" stroke-width="0.2" >3</text>
<line x1="229.10" y1="373.30" x2="229.10" y2="375.90" stroke="#1a1a1a" stroke-width="1" />
<text transform="translate(229.10,385.30) scale(1.08,1)" font-size="7.5" text-anchor="middle" stroke="#262626" stroke-width="0.2" >5</text>
<line x1="251.70" y1="373.30" x2="251.70" y2="375.90" stroke="#1a1a1a" stroke-width="1" />
<text transform="translate(251.70,385.30) scale(1.08,1)" font-size="7.5" text-anchor="middle" stroke="#262626" stroke-width="0.2" >7</text>
<line x1="274.30" y1="373.30" x2="274.30" y2="375.90" stroke="#1a1a1a" stroke-width="1" />
<text transform="translate(274.30,385.30) scale(1.08,1)" font-size="7.5" text-anchor="middle" stroke="#262626" stroke-width="0.2" >9</text>
<text transform="translate(279.95,385.15)" font-size="7.5" stroke="#262626" stroke-width="0.2" textLength="15.70" lengthAdjust="spacingAndGlyphs" >days</text>
<text transform="translate(161.90,331.60) rotate(-90) scale(1.0,1.13)" font-size="7.35" text-anchor="middle" stroke="#262626" stroke-width="0.2" >Cell number (1 &#215; 10<tspan dy="-2.5" font-size="4.6">4</tspan><tspan dy="2.5">)</tspan></text>
<polyline points="184.00,362.40 206.60,352.32 229.10,342.24 251.70,328.88 274.30,308.99" fill="none" stroke="#111111" stroke-width="1.5"/>
<path d="M184.00,359.90 L186.50,364.28 L181.50,364.28 Z" fill="#111111"/>
<line x1="206.60" y1="351.23" x2="206.60" y2="353.41" stroke="#111111" stroke-width="0.9" />
<line x1="205.10" y1="351.23" x2="208.10" y2="351.23" stroke="#111111" stroke-width="0.9" />
<line x1="205.10" y1="353.41" x2="208.10" y2="353.41" stroke="#111111" stroke-width="0.9" />
<path d="M206.60,349.82 L209.10,354.19 L204.10,354.19 Z" fill="#111111"/>
<line x1="229.10" y1="340.87" x2="229.10" y2="343.60" stroke="#111111" stroke-width="0.9" />
<line x1="227.60" y1="340.87" x2="230.60" y2="340.87" stroke="#111111" stroke-width="0.9" />
<line x1="227.60" y1="343.60" x2="230.60" y2="343.60" stroke="#111111" stroke-width="0.9" />
<path d="M229.10,339.74 L231.60,344.11 L226.60,344.11 Z" fill="#111111"/>
<line x1="251.70" y1="326.16" x2="251.70" y2="331.61" stroke="#111111" stroke-width="0.9" />
<line x1="250.20" y1="326.16" x2="253.20" y2="326.16" stroke="#111111" stroke-width="0.9" />
<line x1="250.20" y1="331.61" x2="253.20" y2="331.61" stroke="#111111" stroke-width="0.9" />
<path d="M251.70,326.38 L254.20,330.76 L249.20,330.76 Z" fill="#111111"/>
<line x1="274.30" y1="305.99" x2="274.30" y2="311.99" stroke="#111111" stroke-width="0.9" />
<line x1="272.80" y1="305.99" x2="275.80" y2="305.99" stroke="#111111" stroke-width="0.9" />
<line x1="272.80" y1="311.99" x2="275.80" y2="311.99" stroke="#111111" stroke-width="0.9" />
<path d="M274.30,306.49 L276.80,310.87 L271.80,310.87 Z" fill="#111111"/>
<polyline points="184.00,362.40 206.60,357.77 229.10,341.14 251.70,332.97 274.30,331.06" fill="none" stroke="#c8cadb" stroke-width="1.5"/>
<circle cx="184.00" cy="362.40" r="2.38" fill="#c8cadb"/>
<line x1="206.60" y1="356.68" x2="206.60" y2="358.86" stroke="#c8cadb" stroke-width="0.9" />
<line x1="205.10" y1="356.68" x2="208.10" y2="356.68" stroke="#c8cadb" stroke-width="0.9" />
<line x1="205.10" y1="358.86" x2="208.10" y2="358.86" stroke="#c8cadb" stroke-width="0.9" />
<circle cx="206.60" cy="357.77" r="2.38" fill="#c8cadb"/>
<line x1="229.10" y1="338.42" x2="229.10" y2="343.87" stroke="#c8cadb" stroke-width="0.9" />
<line x1="227.60" y1="338.42" x2="230.60" y2="338.42" stroke="#c8cadb" stroke-width="0.9" />
<line x1="227.60" y1="343.87" x2="230.60" y2="343.87" stroke="#c8cadb" stroke-width="0.9" />
<circle cx="229.10" cy="341.14" r="2.38" fill="#c8cadb"/>
<line x1="251.70" y1="330.79" x2="251.70" y2="335.15" stroke="#c8cadb" stroke-width="0.9" />
<line x1="250.20" y1="330.79" x2="253.20" y2="330.79" stroke="#c8cadb" stroke-width="0.9" />
<line x1="250.20" y1="335.15" x2="253.20" y2="335.15" stroke="#c8cadb" stroke-width="0.9" />
<circle cx="251.70" cy="332.97" r="2.38" fill="#c8cadb"/>
<line x1="274.30" y1="329.15" x2="274.30" y2="332.97" stroke="#c8cadb" stroke-width="0.9" />
<line x1="272.80" y1="329.15" x2="275.80" y2="329.15" stroke="#c8cadb" stroke-width="0.9" />
<line x1="272.80" y1="332.97" x2="275.80" y2="332.97" stroke="#c8cadb" stroke-width="0.9" />
<circle cx="274.30" cy="331.06" r="2.38" fill="#c8cadb"/>
<polyline points="184.00,362.40 206.60,358.31 229.10,344.14 251.70,336.24 274.30,335.15" fill="none" stroke="#a2a7c9" stroke-width="1.5"/>
<path d="M181.38,360.83 L186.62,360.83 L184.00,365.03 Z" fill="#a2a7c9"/>
<rect x="181.38" y="361.90" width="5.25" height="1" fill="#a2a7c9"/>
<line x1="206.60" y1="357.22" x2="206.60" y2="359.40" stroke="#a2a7c9" stroke-width="0.9" />
<line x1="205.10" y1="357.22" x2="208.10" y2="357.22" stroke="#a2a7c9" stroke-width="0.9" />
<line x1="205.10" y1="359.40" x2="208.10" y2="359.40" stroke="#a2a7c9" stroke-width="0.9" />
<path d="M203.97,356.74 L209.22,356.74 L206.60,360.94 Z" fill="#a2a7c9"/>
<rect x="203.97" y="357.81" width="5.25" height="1" fill="#a2a7c9"/>
<line x1="229.10" y1="341.96" x2="229.10" y2="346.32" stroke="#a2a7c9" stroke-width="0.9" />
<line x1="227.60" y1="341.96" x2="230.60" y2="341.96" stroke="#a2a7c9" stroke-width="0.9" />
<line x1="227.60" y1="346.32" x2="230.60" y2="346.32" stroke="#a2a7c9" stroke-width="0.9" />
<path d="M226.47,342.57 L231.72,342.57 L229.10,346.77 Z" fill="#a2a7c9"/>
<rect x="226.47" y="343.64" width="5.25" height="1" fill="#a2a7c9"/>
<line x1="251.70" y1="333.51" x2="251.70" y2="338.97" stroke="#a2a7c9" stroke-width="0.9" />
<line x1="250.20" y1="333.51" x2="253.20" y2="333.51" stroke="#a2a7c9" stroke-width="0.9" />
<line x1="250.20" y1="338.97" x2="253.20" y2="338.97" stroke="#a2a7c9" stroke-width="0.9" />
<path d="M249.07,334.67 L254.32,334.67 L251.70,338.87 Z" fill="#a2a7c9"/>
<rect x="249.07" y="335.74" width="5.25" height="1" fill="#a2a7c9"/>
<line x1="274.30" y1="332.15" x2="274.30" y2="338.15" stroke="#a2a7c9" stroke-width="0.9" />
<line x1="272.80" y1="332.15" x2="275.80" y2="332.15" stroke="#a2a7c9" stroke-width="0.9" />
<line x1="272.80" y1="338.15" x2="275.80" y2="338.15" stroke="#a2a7c9" stroke-width="0.9" />
<path d="M271.68,333.57 L276.93,333.57 L274.30,337.77 Z" fill="#a2a7c9"/>
<rect x="271.68" y="334.65" width="5.25" height="1" fill="#a2a7c9"/>
<polyline points="184.00,362.40 206.60,359.13 229.10,349.87 251.70,347.69 274.30,349.59" fill="none" stroke="#5f6ca3" stroke-width="1.5"/>
<rect x="181.88" y="360.28" width="4.25" height="4.25" fill="#5f6ca3"/>
<line x1="206.60" y1="358.31" x2="206.60" y2="359.95" stroke="#5f6ca3" stroke-width="0.9" />
<line x1="205.10" y1="358.31" x2="208.10" y2="358.31" stroke="#5f6ca3" stroke-width="0.9" />
<line x1="205.10" y1="359.95" x2="208.10" y2="359.95" stroke="#5f6ca3" stroke-width="0.9" />
<rect x="204.47" y="357.00" width="4.25" height="4.25" fill="#5f6ca3"/>
<line x1="229.10" y1="348.77" x2="229.10" y2="350.95" stroke="#5f6ca3" stroke-width="0.9" />
<line x1="227.60" y1="348.77" x2="230.60" y2="348.77" stroke="#5f6ca3" stroke-width="0.9" />
<line x1="227.60" y1="350.95" x2="230.60" y2="350.95" stroke="#5f6ca3" stroke-width="0.9" />
<rect x="226.97" y="347.74" width="4.25" height="4.25" fill="#5f6ca3"/>
<line x1="251.70" y1="346.32" x2="251.70" y2="349.05" stroke="#5f6ca3" stroke-width="0.9" />
<line x1="250.20" y1="346.32" x2="253.20" y2="346.32" stroke="#5f6ca3" stroke-width="0.9" />
<line x1="250.20" y1="349.05" x2="253.20" y2="349.05" stroke="#5f6ca3" stroke-width="0.9" />
<rect x="249.57" y="345.56" width="4.25" height="4.25" fill="#5f6ca3"/>
<line x1="274.30" y1="348.23" x2="274.30" y2="350.95" stroke="#5f6ca3" stroke-width="0.9" />
<line x1="272.80" y1="348.23" x2="275.80" y2="348.23" stroke="#5f6ca3" stroke-width="0.9" />
<line x1="272.80" y1="350.95" x2="275.80" y2="350.95" stroke="#5f6ca3" stroke-width="0.9" />
<rect x="272.18" y="347.47" width="4.25" height="4.25" fill="#5f6ca3"/>
<polyline points="184.00,362.40 206.60,359.68 229.10,351.23 251.70,354.23 274.30,355.86" fill="none" stroke="#2d4273" stroke-width="1.5"/>
<path d="M184.00,359.53 L186.88,362.40 L184.00,365.28 L181.12,362.40 Z" fill="#2d4273"/>
<line x1="206.60" y1="358.86" x2="206.60" y2="360.49" stroke="#2d4273" stroke-width="0.9" />
<line x1="205.10" y1="358.86" x2="208.10" y2="358.86" stroke="#2d4273" stroke-width="0.9" />
<line x1="205.10" y1="360.49" x2="208.10" y2="360.49" stroke="#2d4273" stroke-width="0.9" />
<path d="M206.60,356.80 L209.47,359.68 L206.60,362.55 L203.72,359.68 Z" fill="#2d4273"/>
<line x1="229.10" y1="349.87" x2="229.10" y2="352.59" stroke="#2d4273" stroke-width="0.9" />
<line x1="227.60" y1="349.87" x2="230.60" y2="349.87" stroke="#2d4273" stroke-width="0.9" />
<line x1="227.60" y1="352.59" x2="230.60" y2="352.59" stroke="#2d4273" stroke-width="0.9" />
<path d="M229.10,348.35 L231.97,351.23 L229.10,354.10 L226.22,351.23 Z" fill="#2d4273"/>
<line x1="251.70" y1="353.13" x2="251.70" y2="355.31" stroke="#2d4273" stroke-width="0.9" />
<line x1="250.20" y1="353.13" x2="253.20" y2="353.13" stroke="#2d4273" stroke-width="0.9" />
<line x1="250.20" y1="355.31" x2="253.20" y2="355.31" stroke="#2d4273" stroke-width="0.9" />
<path d="M251.70,351.35 L254.57,354.23 L251.70,357.10 L248.82,354.23 Z" fill="#2d4273"/>
<line x1="274.30" y1="352.05" x2="274.30" y2="359.68" stroke="#2d4273" stroke-width="0.9" />
<line x1="272.80" y1="352.05" x2="275.80" y2="352.05" stroke="#2d4273" stroke-width="0.9" />
<line x1="272.80" y1="359.68" x2="275.80" y2="359.68" stroke="#2d4273" stroke-width="0.9" />
<path d="M274.30,352.99 L277.18,355.86 L274.30,358.74 L271.43,355.86 Z" fill="#2d4273"/>
<text transform="translate(277.30,333.29)" font-size="7.6" fill="#1a1a1a" stroke="#1a1a1a" stroke-width="0.15" letter-spacing="0.1">**</text>
<text transform="translate(277.30,338.79)" font-size="7.6" fill="#1a1a1a" stroke="#1a1a1a" stroke-width="0.15" letter-spacing="0.1">***</text>
<text transform="translate(277.30,353.39)" font-size="7.6" fill="#1a1a1a" stroke="#1a1a1a" stroke-width="0.15" letter-spacing="0.1">***</text>
<text transform="translate(277.30,359.69)" font-size="7.6" fill="#1a1a1a" stroke="#1a1a1a" stroke-width="0.15" letter-spacing="0.1">***</text>
<path d="M190.70,292.10 L193.20,296.48 L188.20,296.48 Z" fill="#111111"/>
<line x1="187.30" y1="302.50" x2="194.30" y2="302.50" stroke="#c8cadb" stroke-width="1.4" />
<circle cx="190.70" cy="302.50" r="2.38" fill="#c8cadb"/>
<line x1="187.30" y1="310.20" x2="194.30" y2="310.20" stroke="#a2a7c9" stroke-width="1.4" />
<path d="M188.07,308.62 L193.32,308.62 L190.70,312.82 Z" fill="#a2a7c9"/>
<rect x="188.07" y="309.70" width="5.25" height="1" fill="#a2a7c9"/>
<line x1="187.30" y1="318.10" x2="194.30" y2="318.10" stroke="#5f6ca3" stroke-width="1.4" />
<rect x="188.57" y="315.98" width="4.25" height="4.25" fill="#5f6ca3"/>
<line x1="187.30" y1="326.00" x2="194.30" y2="326.00" stroke="#2d4273" stroke-width="1.4" />
<path d="M190.70,323.12 L193.57,326.00 L190.70,328.88 L187.82,326.00 Z" fill="#2d4273"/>
<text transform="translate(194.95,297.15)" font-size="7.5" stroke="#262626" stroke-width="0.2" textLength="24.10" lengthAdjust="spacingAndGlyphs" >Control</text>
<text transform="translate(195.20,305.20)" font-size="7.3" stroke="#262626" stroke-width="0.2" >SU9516 (0.5 &#181;M)</text>
<text transform="translate(195.20,312.90)" font-size="7.3" stroke="#262626" stroke-width="0.2" >SU9516 (1 &#181;M)</text>
<text transform="translate(195.20,320.80)" font-size="7.3" stroke="#262626" stroke-width="0.2" >SU9516 (2 &#181;M)</text>
<text transform="translate(195.20,328.70)" font-size="7.3" stroke="#262626" stroke-width="0.2" >SU9516 (4 &#181;M)</text>
<text transform="translate(296.80,284.40) scale(1.1,1)" font-size="10.0" font-weight="bold" fill="#111" stroke="#111" stroke-width="0.35" >H</text>
<text transform="translate(367.25,288.15)" font-size="7.5" stroke="#262626" stroke-width="0.2" textLength="18.60" lengthAdjust="spacingAndGlyphs" >HSCs</text>
<line x1="328.20" y1="294.90" x2="328.20" y2="374.10" stroke="#1a1a1a" stroke-width="1.2" />
<line x1="325.20" y1="373.50" x2="328.20" y2="373.50" stroke="#1a1a1a" stroke-width="1" />
<text transform="translate(321.60,376.13) scale(1.08,1)" font-size="7.3" text-anchor="end" stroke="#262626" stroke-width="0.2" >0</text>
<line x1="325.20" y1="348.10" x2="328.20" y2="348.10" stroke="#1a1a1a" stroke-width="1" />
<text transform="translate(321.60,350.73) scale(1.08,1)" font-size="7.3" text-anchor="end" stroke="#262626" stroke-width="0.2" >40</text>
<line x1="325.20" y1="322.70" x2="328.20" y2="322.70" stroke="#1a1a1a" stroke-width="1" />
<text transform="translate(321.60,325.33) scale(1.08,1)" font-size="7.3" text-anchor="end" stroke="#262626" stroke-width="0.2" >80</text>
<line x1="325.20" y1="297.30" x2="328.20" y2="297.30" stroke="#1a1a1a" stroke-width="1" />
<text transform="translate(321.60,299.93) scale(1.08,1)" font-size="7.3" text-anchor="end" stroke="#262626" stroke-width="0.2" >120</text>
<line x1="328.20" y1="373.50" x2="432.00" y2="373.50" stroke="#1a1a1a" stroke-width="1.2" />
<line x1="329.00" y1="373.50" x2="329.00" y2="376.10" stroke="#1a1a1a" stroke-width="1" />
<text transform="translate(329.00,385.30) scale(1.08,1)" font-size="7.5" text-anchor="middle" stroke="#262626" stroke-width="0.2" >0</text>
<line x1="351.70" y1="373.50" x2="351.70" y2="376.10" stroke="#1a1a1a" stroke-width="1" />
<text transform="translate(351.70,385.30) scale(1.08,1)" font-size="7.5" text-anchor="middle" stroke="#262626" stroke-width="0.2" >3</text>
<line x1="374.40" y1="373.50" x2="374.40" y2="376.10" stroke="#1a1a1a" stroke-width="1" />
<text transform="translate(374.40,385.30) scale(1.08,1)" font-size="7.5" text-anchor="middle" stroke="#262626" stroke-width="0.2" >5</text>
<line x1="397.00" y1="373.50" x2="397.00" y2="376.10" stroke="#1a1a1a" stroke-width="1" />
<text transform="translate(397.00,385.30) scale(1.08,1)" font-size="7.5" text-anchor="middle" stroke="#262626" stroke-width="0.2" >7</text>
<line x1="419.80" y1="373.50" x2="419.80" y2="376.10" stroke="#1a1a1a" stroke-width="1" />
<text transform="translate(419.80,385.30) scale(1.08,1)" font-size="7.5" text-anchor="middle" stroke="#262626" stroke-width="0.2" >9</text>
<text transform="translate(425.65,384.95)" font-size="7.5" stroke="#262626" stroke-width="0.2" textLength="15.30" lengthAdjust="spacingAndGlyphs" >days</text>
<text transform="translate(304.40,353.65) rotate(-90) scale(1,1.13)" font-size="7.6" stroke="#262626" stroke-width="0.2" textLength="40.10" lengthAdjust="spacingAndGlyphs" >Viability (%)</text>
<polyline points="329.00,310.00 351.70,311.71 374.40,310.32 397.00,312.54 419.80,312.86" fill="none" stroke="#2a3558" stroke-width="1.0"/>
<path d="M329.00,308.20 L330.80,311.35 L327.20,311.35 Z" fill="#111111"/>
<line x1="351.70" y1="309.81" x2="351.70" y2="313.62" stroke="#111111" stroke-width="0.9" />
<line x1="350.20" y1="309.81" x2="353.20" y2="309.81" stroke="#111111" stroke-width="0.9" />
<line x1="350.20" y1="313.62" x2="353.20" y2="313.62" stroke="#111111" stroke-width="0.9" />
<path d="M351.70,309.91 L353.50,313.06 L349.90,313.06 Z" fill="#111111"/>
<line x1="374.40" y1="309.05" x2="374.40" y2="311.59" stroke="#111111" stroke-width="0.9" />
<line x1="372.90" y1="309.05" x2="375.90" y2="309.05" stroke="#111111" stroke-width="0.9" />
<line x1="372.90" y1="311.59" x2="375.90" y2="311.59" stroke="#111111" stroke-width="0.9" />
<path d="M374.40,308.52 L376.20,311.67 L372.60,311.67 Z" fill="#111111"/>
<line x1="397.00" y1="311.27" x2="397.00" y2="313.81" stroke="#111111" stroke-width="0.9" />
<line x1="395.50" y1="311.27" x2="398.50" y2="311.27" stroke="#111111" stroke-width="0.9" />
<line x1="395.50" y1="313.81" x2="398.50" y2="313.81" stroke="#111111" stroke-width="0.9" />
<path d="M397.00,310.74 L398.80,313.89 L395.20,313.89 Z" fill="#111111"/>
<line x1="419.80" y1="311.59" x2="419.80" y2="314.13" stroke="#111111" stroke-width="0.9" />
<line x1="418.30" y1="311.59" x2="421.30" y2="311.59" stroke="#111111" stroke-width="0.9" />
<line x1="418.30" y1="314.13" x2="421.30" y2="314.13" stroke="#111111" stroke-width="0.9" />
<path d="M419.80,311.06 L421.60,314.21 L418.00,314.21 Z" fill="#111111"/>
<polyline points="329.00,310.00 351.70,318.89 374.40,313.18 397.00,311.59 419.80,313.49" fill="none" stroke="#c8cadb" stroke-width="1.5"/>
<circle cx="329.00" cy="310.00" r="2.38" fill="#c8cadb"/>
<line x1="351.70" y1="316.35" x2="351.70" y2="321.43" stroke="#c8cadb" stroke-width="0.9" />
<line x1="350.20" y1="316.35" x2="353.20" y2="316.35" stroke="#c8cadb" stroke-width="0.9" />
<line x1="350.20" y1="321.43" x2="353.20" y2="321.43" stroke="#c8cadb" stroke-width="0.9" />
<circle cx="351.70" cy="318.89" r="2.38" fill="#c8cadb"/>
<line x1="374.40" y1="310.63" x2="374.40" y2="315.72" stroke="#c8cadb" stroke-width="0.9" />
<line x1="372.90" y1="310.63" x2="375.90" y2="310.63" stroke="#c8cadb" stroke-width="0.9" />
<line x1="372.90" y1="315.72" x2="375.90" y2="315.72" stroke="#c8cadb" stroke-width="0.9" />
<circle cx="374.40" cy="313.18" r="2.38" fill="#c8cadb"/>
<line x1="397.00" y1="309.68" x2="397.00" y2="313.49" stroke="#c8cadb" stroke-width="0.9" />
<line x1="395.50" y1="309.68" x2="398.50" y2="309.68" stroke="#c8cadb" stroke-width="0.9" />
<line x1="395.50" y1="313.49" x2="398.50" y2="313.49" stroke="#c8cadb" stroke-width="0.9" />
<circle cx="397.00" cy="311.59" r="2.38" fill="#c8cadb"/>
<line x1="419.80" y1="311.59" x2="419.80" y2="315.40" stroke="#c8cadb" stroke-width="0.9" />
<line x1="418.30" y1="311.59" x2="421.30" y2="311.59" stroke="#c8cadb" stroke-width="0.9" />
<line x1="418.30" y1="315.40" x2="421.30" y2="315.40" stroke="#c8cadb" stroke-width="0.9" />
<circle cx="419.80" cy="313.49" r="2.38" fill="#c8cadb"/>
<polyline points="329.00,310.00 351.70,316.03 374.40,315.08 397.00,312.54 419.80,313.81" fill="none" stroke="#a2a7c9" stroke-width="1.5"/>
<path d="M326.38,308.43 L331.62,308.43 L329.00,312.62 Z" fill="#a2a7c9"/>
<rect x="326.38" y="309.50" width="5.25" height="1" fill="#a2a7c9"/>
<line x1="351.70" y1="313.49" x2="351.70" y2="318.57" stroke="#a2a7c9" stroke-width="0.9" />
<line x1="350.20" y1="313.49" x2="353.20" y2="313.49" stroke="#a2a7c9" stroke-width="0.9" />
<line x1="350.20" y1="318.57" x2="353.20" y2="318.57" stroke="#a2a7c9" stroke-width="0.9" />
<path d="M349.07,314.46 L354.32,314.46 L351.70,318.66 Z" fill="#a2a7c9"/>
<rect x="349.07" y="315.53" width="5.25" height="1" fill="#a2a7c9"/>
<line x1="374.40" y1="312.54" x2="374.40" y2="317.62" stroke="#a2a7c9" stroke-width="0.9" />
<line x1="372.90" y1="312.54" x2="375.90" y2="312.54" stroke="#a2a7c9" stroke-width="0.9" />
<line x1="372.90" y1="317.62" x2="375.90" y2="317.62" stroke="#a2a7c9" stroke-width="0.9" />
<path d="M371.77,313.51 L377.02,313.51 L374.40,317.71 Z" fill="#a2a7c9"/>
<rect x="371.77" y="314.58" width="5.25" height="1" fill="#a2a7c9"/>
<line x1="397.00" y1="310.63" x2="397.00" y2="314.44" stroke="#a2a7c9" stroke-width="0.9" />
<line x1="395.50" y1="310.63" x2="398.50" y2="310.63" stroke="#a2a7c9" stroke-width="0.9" />
<line x1="395.50" y1="314.44" x2="398.50" y2="314.44" stroke="#a2a7c9" stroke-width="0.9" />
<path d="M394.38,310.97 L399.62,310.97 L397.00,315.17 Z" fill="#a2a7c9"/>
<rect x="394.38" y="312.04" width="5.25" height="1" fill="#a2a7c9"/>
<line x1="419.80" y1="311.91" x2="419.80" y2="315.72" stroke="#a2a7c9" stroke-width="0.9" />
<line x1="418.30" y1="311.91" x2="421.30" y2="311.91" stroke="#a2a7c9" stroke-width="0.9" />
<line x1="418.30" y1="315.72" x2="421.30" y2="315.72" stroke="#a2a7c9" stroke-width="0.9" />
<path d="M417.18,312.24 L422.43,312.24 L419.80,316.44 Z" fill="#a2a7c9"/>
<rect x="417.18" y="313.31" width="5.25" height="1" fill="#a2a7c9"/>
<polyline points="329.00,310.00 351.70,314.13 374.40,316.67 397.00,313.18 419.80,313.18" fill="none" stroke="#5f6ca3" stroke-width="1.5"/>
<rect x="326.88" y="307.88" width="4.25" height="4.25" fill="#5f6ca3"/>
<line x1="351.70" y1="311.59" x2="351.70" y2="316.67" stroke="#5f6ca3" stroke-width="0.9" />
<line x1="350.20" y1="311.59" x2="353.20" y2="311.59" stroke="#5f6ca3" stroke-width="0.9" />
<line x1="350.20" y1="316.67" x2="353.20" y2="316.67" stroke="#5f6ca3" stroke-width="0.9" />
<rect x="349.57" y="312.00" width="4.25" height="4.25" fill="#5f6ca3"/>
<line x1="374.40" y1="314.13" x2="374.40" y2="319.21" stroke="#5f6ca3" stroke-width="0.9" />
<line x1="372.90" y1="314.13" x2="375.90" y2="314.13" stroke="#5f6ca3" stroke-width="0.9" />
<line x1="372.90" y1="319.21" x2="375.90" y2="319.21" stroke="#5f6ca3" stroke-width="0.9" />
<rect x="372.27" y="314.54" width="4.25" height="4.25" fill="#5f6ca3"/>
<line x1="397.00" y1="311.27" x2="397.00" y2="315.08" stroke="#5f6ca3" stroke-width="0.9" />
<line x1="395.50" y1="311.27" x2="398.50" y2="311.27" stroke="#5f6ca3" stroke-width="0.9" />
<line x1="395.50" y1="315.08" x2="398.50" y2="315.08" stroke="#5f6ca3" stroke-width="0.9" />
<rect x="394.88" y="311.05" width="4.25" height="4.25" fill="#5f6ca3"/>
<line x1="419.80" y1="311.27" x2="419.80" y2="315.08" stroke="#5f6ca3" stroke-width="0.9" />
<line x1="418.30" y1="311.27" x2="421.30" y2="311.27" stroke="#5f6ca3" stroke-width="0.9" />
<line x1="418.30" y1="315.08" x2="421.30" y2="315.08" stroke="#5f6ca3" stroke-width="0.9" />
<rect x="417.68" y="311.05" width="4.25" height="4.25" fill="#5f6ca3"/>
<polyline points="329.00,310.00 351.70,314.44 374.40,318.25 397.00,313.81 419.80,314.13" fill="none" stroke="#2d4273" stroke-width="1.5"/>
<path d="M329.00,307.12 L331.88,310.00 L329.00,312.88 L326.12,310.00 Z" fill="#2d4273"/>
<line x1="351.70" y1="311.27" x2="351.70" y2="317.62" stroke="#2d4273" stroke-width="0.9" />
<line x1="350.20" y1="311.27" x2="353.20" y2="311.27" stroke="#2d4273" stroke-width="0.9" />
<line x1="350.20" y1="317.62" x2="353.20" y2="317.62" stroke="#2d4273" stroke-width="0.9" />
<path d="M351.70,311.57 L354.57,314.44 L351.70,317.32 L348.82,314.44 Z" fill="#2d4273"/>
<line x1="374.40" y1="313.81" x2="374.40" y2="322.70" stroke="#2d4273" stroke-width="0.9" />
<line x1="372.90" y1="313.81" x2="375.90" y2="313.81" stroke="#2d4273" stroke-width="0.9" />
<line x1="372.90" y1="322.70" x2="375.90" y2="322.70" stroke="#2d4273" stroke-width="0.9" />
<path d="M374.40,315.38 L377.27,318.25 L374.40,321.13 L371.52,318.25 Z" fill="#2d4273"/>
<line x1="397.00" y1="311.91" x2="397.00" y2="315.72" stroke="#2d4273" stroke-width="0.9" />
<line x1="395.50" y1="311.91" x2="398.50" y2="311.91" stroke="#2d4273" stroke-width="0.9" />
<line x1="395.50" y1="315.72" x2="398.50" y2="315.72" stroke="#2d4273" stroke-width="0.9" />
<path d="M397.00,310.94 L399.88,313.81 L397.00,316.69 L394.12,313.81 Z" fill="#2d4273"/>
<line x1="419.80" y1="311.59" x2="419.80" y2="316.67" stroke="#2d4273" stroke-width="0.9" />
<line x1="418.30" y1="311.59" x2="421.30" y2="311.59" stroke="#2d4273" stroke-width="0.9" />
<line x1="418.30" y1="316.67" x2="421.30" y2="316.67" stroke="#2d4273" stroke-width="0.9" />
<path d="M419.80,311.25 L422.68,314.13 L419.80,317.00 L416.93,314.13 Z" fill="#2d4273"/>
<path d="M335.20,332.40 L337.70,336.77 L332.70,336.77 Z" fill="#111111"/>
<line x1="331.80" y1="342.40" x2="338.60" y2="342.40" stroke="#c8cadb" stroke-width="1.4" />
<circle cx="335.20" cy="342.40" r="2.38" fill="#c8cadb"/>
<line x1="331.80" y1="349.90" x2="338.60" y2="349.90" stroke="#a2a7c9" stroke-width="1.4" />
<path d="M332.57,348.32 L337.82,348.32 L335.20,352.52 Z" fill="#a2a7c9"/>
<rect x="332.57" y="349.40" width="5.25" height="1" fill="#a2a7c9"/>
<line x1="331.80" y1="358.00" x2="338.60" y2="358.00" stroke="#5f6ca3" stroke-width="1.4" />
<rect x="333.07" y="355.88" width="4.25" height="4.25" fill="#5f6ca3"/>
<line x1="331.80" y1="366.10" x2="338.60" y2="366.10" stroke="#2d4273" stroke-width="1.4" />
<path d="M335.20,363.23 L338.07,366.10 L335.20,368.98 L332.32,366.10 Z" fill="#2d4273"/>
<text transform="translate(339.55,337.45)" font-size="7.5" stroke="#262626" stroke-width="0.2" textLength="24.10" lengthAdjust="spacingAndGlyphs" >Control</text>
<text transform="translate(339.60,345.10)" font-size="7.3" stroke="#262626" stroke-width="0.2" >SU9516 (0.5 &#181;M)</text>
<text transform="translate(339.60,352.60)" font-size="7.3" stroke="#262626" stroke-width="0.2" >SU9516 (1 &#181;M)</text>
<text transform="translate(339.60,360.70)" font-size="7.3" stroke="#262626" stroke-width="0.2" >SU9516 (2 &#181;M)</text>
<text transform="translate(339.60,368.80)" font-size="7.3" stroke="#262626" stroke-width="0.2" >SU9516 (4 &#181;M)</text>
<text transform="translate(441.20,284.00) scale(1.1,1)" font-size="10.0" font-weight="bold" fill="#111" stroke="#111" stroke-width="0.35" >I</text>
<text transform="translate(482.35,295.05)" font-size="7.5" stroke="#262626" stroke-width="0.2" textLength="18.50" lengthAdjust="spacingAndGlyphs" >HSCs</text>
<line x1="468.20" y1="299.60" x2="468.20" y2="372.90" stroke="#1a1a1a" stroke-width="1.2" />
<line x1="465.20" y1="372.30" x2="468.20" y2="372.30" stroke="#1a1a1a" stroke-width="1" />
<text transform="translate(461.40,374.93) scale(1.08,1)" font-size="7.3" text-anchor="end" stroke="#262626" stroke-width="0.2" >0</text>
<line x1="465.20" y1="354.73" x2="468.20" y2="354.73" stroke="#1a1a1a" stroke-width="1" />
<text transform="translate(461.40,357.35) scale(1.08,1)" font-size="7.3" text-anchor="end" stroke="#262626" stroke-width="0.2" >20</text>
<line x1="465.20" y1="337.15" x2="468.20" y2="337.15" stroke="#1a1a1a" stroke-width="1" />
<text transform="translate(461.40,339.78) scale(1.08,1)" font-size="7.3" text-anchor="end" stroke="#262626" stroke-width="0.2" >40</text>
<line x1="465.20" y1="319.57" x2="468.20" y2="319.57" stroke="#1a1a1a" stroke-width="1" />
<text transform="translate(461.40,322.20) scale(1.08,1)" font-size="7.3" text-anchor="end" stroke="#262626" stroke-width="0.2" >60</text>
<line x1="465.20" y1="302.00" x2="468.20" y2="302.00" stroke="#1a1a1a" stroke-width="1" />
<text transform="translate(461.40,304.63) scale(1.08,1)" font-size="7.3" text-anchor="end" stroke="#262626" stroke-width="0.2" >80</text>
<line x1="468.20" y1="372.30" x2="508.60" y2="372.30" stroke="#1a1a1a" stroke-width="1.2" />
<rect x="474.00" y="367.80" width="8.10" height="4.50" fill="#0d0d0d" />
<rect x="484.20" y="341.60" width="8.10" height="30.70" fill="#6474ae" />
<rect x="495.00" y="335.50" width="8.10" height="36.80" fill="#2c4c8e" />
<line x1="478.05" y1="359.90" x2="478.05" y2="367.80" stroke="#353535" stroke-width="1.25" />
<line x1="475.05" y1="359.90" x2="481.05" y2="359.90" stroke="#353535" stroke-width="1.25" />
<line x1="488.25" y1="324.50" x2="488.25" y2="341.60" stroke="#353535" stroke-width="1.25" />
<line x1="485.25" y1="324.50" x2="491.25" y2="324.50" stroke="#353535" stroke-width="1.25" />
<text transform="translate(488.35,324.69)" font-size="7.6" text-anchor="middle" fill="#1a1a1a" stroke="#1a1a1a" stroke-width="0.15" letter-spacing="0.1">**</text>
<line x1="499.05" y1="318.30" x2="499.05" y2="335.50" stroke="#353535" stroke-width="1.25" />
<line x1="496.05" y1="318.30" x2="502.05" y2="318.30" stroke="#353535" stroke-width="1.25" />
<text transform="translate(499.15,318.49)" font-size="7.6" text-anchor="middle" fill="#1a1a1a" stroke="#1a1a1a" stroke-width="0.15" letter-spacing="0.1">**</text>
<text transform="translate(469.35,381.85)" font-size="7.5" stroke="#262626" stroke-width="0.2" textLength="13.30" lengthAdjust="spacingAndGlyphs" >Con</text>
<text transform="translate(488.50,382.00) scale(1.08,1)" font-size="7.5" text-anchor="middle" stroke="#262626" stroke-width="0.2" >2</text>
<text transform="translate(499.30,382.00) scale(1.08,1)" font-size="7.5" text-anchor="middle" stroke="#262626" stroke-width="0.2" >4</text>
<line x1="485.30" y1="384.80" x2="503.60" y2="384.80" stroke="#222" stroke-width="1.1" />
<text transform="translate(467.95,395.25)" font-size="7.5" stroke="#262626" stroke-width="0.2" textLength="45.40" lengthAdjust="spacingAndGlyphs" >SU9516 (&#181;M)</text>
<text transform="translate(447.80,365.85) rotate(-90) scale(1,1.13)" font-size="7.6" stroke="#262626" stroke-width="0.2" textLength="61.80" lengthAdjust="spacingAndGlyphs" >Bacteria killing (%)</text>
<rect x="0.5" y="0.5" width="519" height="407" fill="none" stroke="#000" stroke-width="1.2"/>
</g></svg>
</body></html>
